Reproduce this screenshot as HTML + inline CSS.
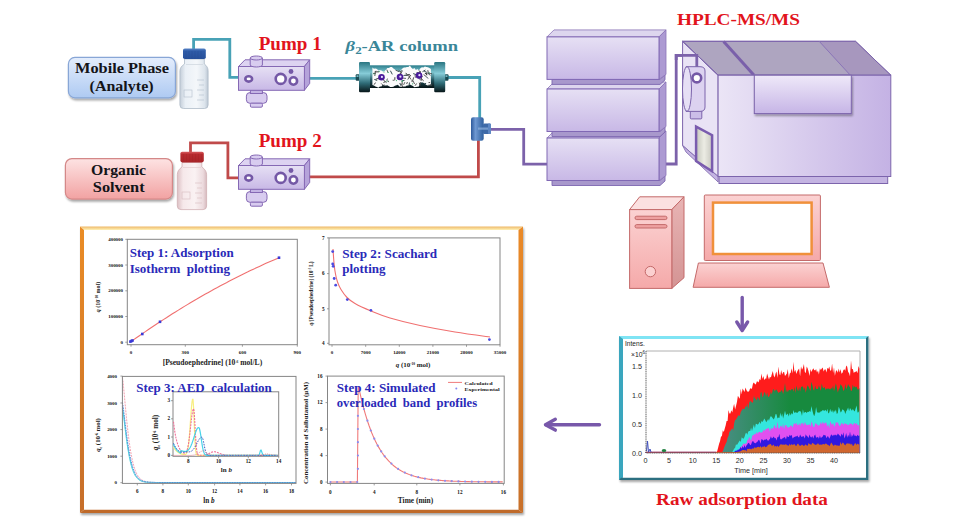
<!DOCTYPE html>
<html><head><meta charset="utf-8">
<style>
html,body{margin:0;padding:0;background:#fff;width:970px;height:524px;overflow:hidden}
svg{position:absolute;left:0;top:0;display:block}
text{font-family:"Liberation Serif",serif}
.sans, .sans text{font-family:"Liberation Sans",sans-serif}
</style></head><body>
<svg width="970" height="524" viewBox="0 0 970 524">
<defs>
  <linearGradient id="gBlueBox" x1="0" y1="0" x2="0" y2="1">
    <stop offset="0" stop-color="#e4edfc"/><stop offset="1" stop-color="#aecaf2"/>
  </linearGradient>
  <linearGradient id="gPinkBox" x1="0" y1="0" x2="0" y2="1">
    <stop offset="0" stop-color="#fde3e3"/><stop offset="1" stop-color="#f2a2a2"/>
  </linearGradient>
  <linearGradient id="gPurpFront" x1="0" y1="0" x2="0" y2="1">
    <stop offset="0" stop-color="#e6e0f4"/><stop offset="1" stop-color="#c8b8e6"/>
  </linearGradient>
  <linearGradient id="gPurpH" x1="0" y1="0" x2="1" y2="0">
    <stop offset="0" stop-color="#e8e2f5"/><stop offset="1" stop-color="#c6b5e4"/>
  </linearGradient>
  <linearGradient id="gColCap" x1="0" y1="0" x2="0" y2="1">
    <stop offset="0" stop-color="#4a9aa8"/><stop offset="0.35" stop-color="#9ad6df"/><stop offset="1" stop-color="#0d2a30"/>
  </linearGradient>
  <linearGradient id="gColBody" x1="0" y1="0" x2="0" y2="1">
    <stop offset="0" stop-color="#3d8e9c"/><stop offset="0.3" stop-color="#8fd0da"/><stop offset="1" stop-color="#0c262b"/>
  </linearGradient>
  <linearGradient id="gPinkTower" x1="0" y1="0" x2="0" y2="1">
    <stop offset="0" stop-color="#fbd2d2"/><stop offset="1" stop-color="#f5a9a9"/>
  </linearGradient>
  <linearGradient id="gOrTop" x1="0" y1="0" x2="0" y2="1">
    <stop offset="0" stop-color="#eeb868"/><stop offset="1" stop-color="#fff2b8"/>
  </linearGradient>
  <filter id="sh" x="-20%" y="-20%" width="140%" height="140%">
    <feGaussianBlur in="SourceAlpha" stdDeviation="1.2"/><feOffset dx="1" dy="1.5"/>
    <feComponentTransfer><feFuncA type="linear" slope="0.35"/></feComponentTransfer>
    <feMerge><feMergeNode/><feMergeNode in="SourceGraphic"/></feMerge>
  </filter>
</defs>

<!-- ============ TUBES ============ -->
<g fill="none" stroke-width="2.8" stroke-linejoin="miter">
  <polyline points="193.6,49 193.6,39.3 229.8,39.3 229.8,77.4 240,77.4" stroke="#48a2b6"/>
  <polyline points="308,78.3 357,78.3" stroke="#48a2b6"/>
  <polyline points="448,77.5 479.7,77.5 479.7,118" stroke="#48a2b6"/>
  <polyline points="190.5,152 190.5,142.9 227.9,142.9 227.9,177.9 240,177.9" stroke="#c04a4a"/>
  <polyline points="308,176.8 478.4,176.8 478.4,140" stroke="#c04a4a"/>
  <polyline points="490,129.4 523.7,129.4 523.7,164.1 548,164.1" stroke="#7c62aa"/>
  <polyline points="664,164 676.2,164 676.2,55.3 696.8,55.3 696.8,67" stroke="#7c62aa"/>
</g>
<!-- ============ LABEL BOXES ============ -->
<g filter="url(#sh)">
  <rect x="68.4" y="57.4" width="107" height="40.4" rx="6.5" fill="url(#gBlueBox)" stroke="#88a6d6" stroke-width="1.2"/>
  <rect x="65.4" y="158.6" width="107" height="40.5" rx="6.5" fill="url(#gPinkBox)" stroke="#d48888" stroke-width="1.2"/>
</g>
<g font-weight="bold" font-size="15.6" fill="#141418" lengthAdjust="spacingAndGlyphs">
  <text x="75" y="73.1" textLength="94" lengthAdjust="spacingAndGlyphs">Mobile Phase</text>
  <text x="89.6" y="91" textLength="64" lengthAdjust="spacingAndGlyphs">(Analyte)</text>
  <text x="91" y="174.7" textLength="55" lengthAdjust="spacingAndGlyphs">Organic</text>
  <text x="92.8" y="192.4" textLength="51.8" lengthAdjust="spacingAndGlyphs">Solvent</text>
</g>

<!-- ============ BOTTLES ============ -->
<defs>
  <linearGradient id="gGlassB" x1="0" y1="0" x2="1" y2="0">
    <stop offset="0" stop-color="#c4ced9"/><stop offset="0.2" stop-color="#eaf0f6"/><stop offset="0.6" stop-color="#f4f7fa"/><stop offset="0.88" stop-color="#dce4ec"/><stop offset="1" stop-color="#bcc7d3"/>
  </linearGradient>
  <linearGradient id="gGlassR" x1="0" y1="0" x2="1" y2="0">
    <stop offset="0" stop-color="#dcc0c4"/><stop offset="0.2" stop-color="#f6e8ea"/><stop offset="0.6" stop-color="#faf2f3"/><stop offset="0.88" stop-color="#ecdadd"/><stop offset="1" stop-color="#d6babe"/>
  </linearGradient>
  <linearGradient id="gCapB" x1="0" y1="0" x2="0" y2="1">
    <stop offset="0" stop-color="#5a86c8"/><stop offset="0.25" stop-color="#2f5ca8"/><stop offset="1" stop-color="#27509a"/>
  </linearGradient>
  <linearGradient id="gCapR" x1="0" y1="0" x2="0" y2="1">
    <stop offset="0" stop-color="#d85a5e"/><stop offset="0.25" stop-color="#b82c30"/><stop offset="1" stop-color="#a82428"/>
  </linearGradient>
</defs>
<g>
  <path d="M184.5,59 L204.3,59 L204.3,64 C207,66 208.1,68 208.1,71 L208.1,105 Q208.1,108.5 204.5,108.5 L183.5,108.5 Q179.9,108.5 179.9,105 L179.9,71 C179.9,68 181.5,66 184.5,64 Z" fill="url(#gGlassB)" stroke="#aebbc8" stroke-width="0.8"/>
  <path d="M186,64.5 L203,64.5" stroke="#d0d8e0" stroke-width="0.8"/>
  <g stroke="#b4c0cc" stroke-width="0.6" fill="none">
    <path d="M197,80 L204,80 M199,85 L204,85 M197,90 L204,90 M199,95 L204,95 M197,100 L204,100"/>
    <rect x="184" y="90" width="8" height="7"/>
  </g>
  <rect x="183" y="48.4" width="22.8" height="10.7" rx="1.8" fill="url(#gCapB)"/>
  <g stroke="#244a8c" stroke-width="0.5" opacity="0.6"><path d="M186,51 V58.5 M189,51 V58.5 M192,51 V58.5 M195,51 V58.5 M198,51 V58.5 M201,51 V58.5"/></g>
</g>
<g>
  <path d="M182,162.4 L201.8,162.4 L201.8,167 C204.8,169 206.6,171.5 206.6,174.6 L206.6,206 Q206.6,209.6 203,209.6 L181,209.6 Q177.3,209.6 177.3,206 L177.3,174.6 C177.3,171.5 179,169 182,167 Z" fill="url(#gGlassR)" stroke="#d0b0b4" stroke-width="0.8"/>
  <path d="M183,167.5 L201,167.5" stroke="#e4d0d2" stroke-width="0.8"/>
  <g stroke="#d8bcc0" stroke-width="0.6" fill="none">
    <path d="M195,183 L202,183 M197,188 L202,188 M195,193 L202,193 M197,198 L202,198 M195,203 L202,203"/>
    <rect x="182" y="192" width="8" height="7"/>
  </g>
  <rect x="180.4" y="151.7" width="23.4" height="10.7" rx="1.8" fill="url(#gCapR)"/>
  <g stroke="#9a2024" stroke-width="0.5" opacity="0.5"><path d="M183.5,154 V161.5 M186.5,154 V161.5 M189.5,154 V161.5 M192.5,154 V161.5 M195.5,154 V161.5 M198.5,154 V161.5 M201.5,154 V161.5"/></g>
</g>

<!-- ============ PUMPS ============ -->
<defs>
<g id="pump1" stroke="#8568b4" stroke-width="1">
  <rect x="246.4" y="92.6" width="20.6" height="10.7" rx="3.5" fill="#d8ccef"/>
  <rect x="250.4" y="90" width="12" height="3.5" fill="#c4b4e4"/>
  <rect x="250.4" y="103.2" width="12" height="4" rx="1.2" fill="#d8ccef"/>
  <path d="M238.5,66.5 L245,59.8 L309.7,59.8 L304.4,66.5 Z" fill="#ddd3f1"/>
  <path d="M304.4,66.5 L309.7,59.8 L309.7,83.4 L304.4,90.3 Z" fill="#b5a3da"/>
  <rect x="238.5" y="66.5" width="65.9" height="23.8" fill="url(#gPurpFront)"/>
  <path d="M250.2,65 L250.2,58 A6.1,2 0 0 1 262.4,58 L262.4,65 A6.1,2 0 0 1 250.2,65 Z" fill="#d8ccef"/>
  <path d="M250.2,58 A6.1,2 0 0 0 262.4,58" fill="none"/>
  <g fill="#fff" stroke="#7458a6" stroke-width="2.6">
    <ellipse cx="248.7" cy="78.9" rx="3.4" ry="2.7"/>
    <circle cx="280.7" cy="78.9" r="5"/>
    <circle cx="293.4" cy="81" r="3.7"/>
  </g>
  <circle cx="291" cy="71.5" r="2.4" fill="#7458a6" stroke="none"/>
</g>
</defs>
<use href="#pump1"/>
<use href="#pump1" transform="translate(0,99)"/>
<!-- ============ COLUMN ============ -->
<defs>
  <linearGradient id="gCap2" x1="0" y1="0" x2="0" y2="1">
    <stop offset="0" stop-color="#2a7682"/><stop offset="0.38" stop-color="#86ccd8"/><stop offset="0.7" stop-color="#2f6c78"/><stop offset="1" stop-color="#081619"/>
  </linearGradient>
  <linearGradient id="gBody2" x1="0" y1="0" x2="0" y2="1">
    <stop offset="0" stop-color="#2c7e8c"/><stop offset="0.3" stop-color="#7cc4ce"/><stop offset="0.65" stop-color="#23545e"/><stop offset="1" stop-color="#061214"/>
  </linearGradient>
  <linearGradient id="gT" x1="0" y1="0" x2="1" y2="0">
    <stop offset="0" stop-color="#2e5a9c"/><stop offset="0.35" stop-color="#6e98d2"/><stop offset="1" stop-color="#30609e"/>
  </linearGradient>
</defs>
<rect x="355.7" y="74.3" width="4" height="6.4" rx="1" fill="#1a4a52"/><rect x="356.5" y="75.3" width="2" height="1.6" fill="#7cc4ce"/>
<rect x="444.5" y="74.3" width="4" height="6.4" rx="1" fill="#1a4a52"/><rect x="445.5" y="75.3" width="2" height="1.6" fill="#7cc4ce"/>
<rect x="369" y="65.3" width="66" height="22.7" fill="url(#gBody2)"/>
<rect x="359" y="62" width="11" height="30.2" rx="1.2" fill="url(#gCap2)"/>
<rect x="434.2" y="62" width="11" height="30.2" rx="1.2" fill="url(#gCap2)"/>
<path d="M372.4,67.6 L373.9,68.7 L375.4,68.6 L376.9,68.9 L378.4,70.6 L379.9,70.3 L381.4,70.6 L382.9,71.4 L384.4,71.3 L385.9,69.8 L387.4,68.0 L388.9,68.0 L390.4,67.1 L391.9,67.1 L393.4,68.5 L394.9,69.5 L396.4,70.4 L397.9,71.0 L399.4,72.2 L400.9,70.2 L402.4,68.6 L403.9,67.6 L405.4,67.6 L406.9,67.1 L408.4,67.0 L409.9,65.5 L411.4,67.8 L412.9,68.9 L414.4,68.1 L415.9,70.1 L417.4,69.1 L418.9,70.4 L420.4,68.2 L421.9,67.3 L423.4,67.6 L424.9,66.5 L426.4,67.1 L427.9,67.3 L429.4,67.9 L430.9,69.0 L430.9,84.2 L429.4,85.0 L427.9,85.5 L426.4,85.1 L424.9,83.8 L423.4,82.7 L421.9,82.3 L420.4,83.0 L418.9,86.5 L417.4,86.7 L415.9,87.0 L414.4,87.2 L412.9,86.1 L411.4,85.3 L409.9,84.5 L408.4,85.6 L406.9,85.6 L405.4,86.5 L403.9,86.6 L402.4,86.8 L400.9,86.8 L399.4,86.4 L397.9,84.7 L396.4,85.2 L394.9,85.7 L393.4,86.8 L391.9,87.0 L390.4,86.9 L388.9,86.2 L387.4,85.3 L385.9,85.4 L384.4,85.6 L382.9,84.6 L381.4,86.5 L379.9,86.6 L378.4,87.7 L376.9,87.1 L375.4,86.5 L373.9,85.4 L372.4,85.0Z" fill="#fbfbfb"/>
<g><path d="M430.1,82.5 L428.5,82.6" stroke="#4a4a4a" stroke-width="0.9"/><path d="M384.3,84.6 L383.5,86.3" stroke="#555" stroke-width="0.9"/><path d="M428.7,73.6 L432.0,73.7" stroke="#4a4a4a" stroke-width="0.9"/><path d="M419.6,75.8 L422.7,76.7" stroke="#2a2a2a" stroke-width="0.9"/><path d="M387.5,78.6 L386.7,80.4" stroke="#4a4a4a" stroke-width="0.9"/><path d="M408.0,82.6 L406.1,83.4" stroke="#3a3a3a" stroke-width="0.9"/><path d="M381.2,83.4 L382.7,84.9" stroke="#555" stroke-width="0.9"/><path d="M416.6,83.5 L415.1,85.7" stroke="#3a3a3a" stroke-width="0.9"/><path d="M400.2,71.4 L401.8,72.0" stroke="#2a2a2a" stroke-width="0.9"/><path d="M427.5,72.7 L430.2,75.5" stroke="#203a40" stroke-width="0.9"/><path d="M409.7,74.4 L405.5,75.4" stroke="#3a3a3a" stroke-width="0.9"/><path d="M380.8,76.6 L379.9,78.8" stroke="#555" stroke-width="0.9"/><path d="M424.9,73.3 L427.6,73.9" stroke="#2a2a2a" stroke-width="0.9"/><path d="M386.8,69.7 L388.1,72.7" stroke="#4a4a4a" stroke-width="0.9"/><path d="M382.3,75.8 L378.9,76.0" stroke="#203a40" stroke-width="0.9"/><path d="M413.7,77.3 L412.5,81.3" stroke="#3a3a3a" stroke-width="0.9"/><path d="M401.4,75.8 L399.7,76.0" stroke="#4a4a4a" stroke-width="0.9"/><path d="M408.7,75.9 L411.1,79.6" stroke="#4a4a4a" stroke-width="0.9"/><path d="M379.1,78.1 L375.6,79.3" stroke="#2a2a2a" stroke-width="0.9"/><path d="M413.0,80.8 L414.6,84.0" stroke="#4a4a4a" stroke-width="0.9"/><path d="M426.1,83.4 L424.4,83.7" stroke="#203a40" stroke-width="0.9"/><path d="M401.7,70.0 L402.3,71.5" stroke="#203a40" stroke-width="0.9"/><path d="M379.2,71.8 L375.2,71.9" stroke="#2a2a2a" stroke-width="0.9"/><path d="M415.0,74.9 L415.4,77.8" stroke="#555" stroke-width="0.9"/><path d="M402.8,78.1 L406.0,78.4" stroke="#555" stroke-width="0.9"/><path d="M400.9,72.3 L400.9,75.6" stroke="#2a2a2a" stroke-width="0.9"/><path d="M426.0,73.4 L426.8,75.3" stroke="#2a2a2a" stroke-width="0.9"/><path d="M409.2,77.0 L407.8,79.5" stroke="#4a4a4a" stroke-width="0.9"/><path d="M423.6,74.6 L425.9,76.2" stroke="#4a4a4a" stroke-width="0.9"/><path d="M419.2,82.7 L420.3,85.7" stroke="#3a3a3a" stroke-width="0.9"/><path d="M390.4,70.7 L392.3,74.4" stroke="#203a40" stroke-width="0.9"/><path d="M376.2,71.0 L374.5,72.0" stroke="#4a4a4a" stroke-width="0.9"/><path d="M399.8,83.0 L400.9,85.8" stroke="#203a40" stroke-width="0.9"/><path d="M411.8,80.3 L412.1,82.1" stroke="#555" stroke-width="0.9"/><path d="M375.5,82.6 L374.2,84.6" stroke="#2a2a2a" stroke-width="0.9"/><path d="M392.6,80.2 L394.5,80.3" stroke="#555" stroke-width="0.9"/><path d="M398.6,70.2 L400.1,71.5" stroke="#4a4a4a" stroke-width="0.9"/><path d="M374.3,79.4 L377.2,80.5" stroke="#203a40" stroke-width="0.9"/><path d="M410.7,75.1 L409.5,76.9" stroke="#2a2a2a" stroke-width="0.9"/><path d="M401.7,72.1 L399.4,74.3" stroke="#2a2a2a" stroke-width="0.9"/><path d="M375.4,71.8 L374.8,76.0" stroke="#4a4a4a" stroke-width="0.9"/><path d="M401.4,83.6 L402.7,87.3" stroke="#3a3a3a" stroke-width="0.9"/><path d="M424.2,71.2 L426.9,72.4" stroke="#203a40" stroke-width="0.9"/><path d="M409.5,82.5 L409.0,85.8" stroke="#203a40" stroke-width="0.9"/><path d="M402.0,81.1 L402.3,84.5" stroke="#4a4a4a" stroke-width="0.9"/><path d="M383.3,80.0 L386.5,82.6" stroke="#2a2a2a" stroke-width="0.9"/><path d="M432.0,85.0 L427.8,85.3" stroke="#555" stroke-width="0.9"/><path d="M387.8,80.5 L388.6,82.1" stroke="#2a2a2a" stroke-width="0.9"/><path d="M398.5,77.9 L398.6,79.6" stroke="#4a4a4a" stroke-width="0.9"/><path d="M418.8,70.8 L421.0,72.1" stroke="#2a2a2a" stroke-width="0.9"/><path d="M420.8,72.6 L416.6,72.6" stroke="#3a3a3a" stroke-width="0.9"/><path d="M404.5,80.4 L401.6,80.9" stroke="#203a40" stroke-width="0.9"/><path d="M427.8,70.2 L428.4,73.3" stroke="#3a3a3a" stroke-width="0.9"/><path d="M421.3,76.9 L421.1,80.9" stroke="#3a3a3a" stroke-width="0.9"/><path d="M407.5,74.9 L403.5,75.5" stroke="#203a40" stroke-width="0.9"/><path d="M409.9,74.9 L406.8,75.2" stroke="#3a3a3a" stroke-width="0.9"/><path d="M405.5,73.2 L407.0,73.8" stroke="#555" stroke-width="0.9"/><path d="M394.9,77.2 L394.8,79.9" stroke="#2a2a2a" stroke-width="0.9"/><path d="M418.5,78.6 L420.5,79.2" stroke="#203a40" stroke-width="0.9"/><path d="M426.0,76.3 L428.0,78.5" stroke="#203a40" stroke-width="0.9"/><path d="M380.4,76.1 L380.3,78.0" stroke="#203a40" stroke-width="0.9"/><path d="M395.6,70.2 L399.1,71.7" stroke="#4a4a4a" stroke-width="0.9"/><path d="M373.1,73.4 L375.5,73.5" stroke="#3a3a3a" stroke-width="0.9"/><path d="M413.2,73.6 L416.7,74.8" stroke="#203a40" stroke-width="0.9"/><path d="M381.2,76.8 L379.0,79.5" stroke="#4a4a4a" stroke-width="0.9"/><path d="M425.4,70.0 L422.5,71.7" stroke="#203a40" stroke-width="0.9"/><path d="M404.9,82.1 L403.6,84.9" stroke="#555" stroke-width="0.9"/><path d="M421.0,78.4 L423.7,80.9" stroke="#3a3a3a" stroke-width="0.9"/><path d="M420.7,82.1 L419.4,86.0" stroke="#4a4a4a" stroke-width="0.9"/><path d="M385.2,81.8 L383.4,82.5" stroke="#3a3a3a" stroke-width="0.9"/><circle cx="386.9" cy="81.2" r="0.6" fill="#3ab070"/><circle cx="388.1" cy="72.4" r="0.6" fill="#3ab070"/><circle cx="421.3" cy="76.9" r="0.6" fill="#3ab070"/><circle cx="418.8" cy="72.8" r="0.6" fill="#3ab070"/><circle cx="396.4" cy="80.6" r="0.6" fill="#3ab070"/><circle cx="374.0" cy="73.8" r="0.6" fill="#3ab070"/><circle cx="412.6" cy="83.8" r="0.6" fill="#3ab070"/><circle cx="429.2" cy="72.6" r="0.6" fill="#3ab070"/><circle cx="402.3" cy="81.6" r="0.6" fill="#3ab070"/><circle cx="402.2" cy="80.6" r="0.6" fill="#3ab070"/><circle cx="384.0" cy="72.0" r="0.6" fill="#3ab070"/><circle cx="379.2" cy="71.5" r="0.6" fill="#3ab070"/></g>
<circle cx="381.5" cy="77.2" r="3.3" fill="#4a1a9a"/><circle cx="381.9" cy="76.9" r="1.1" fill="#e8e0ff"/>
<circle cx="400" cy="77" r="3.3" fill="#4a1a9a"/><circle cx="400.4" cy="76.7" r="1.1" fill="#e8e0ff"/>
<circle cx="419" cy="75.5" r="3.3" fill="#4a1a9a"/><circle cx="419.4" cy="75.2" r="1.1" fill="#e8e0ff"/>
<g>
  <rect x="471" y="117.3" width="12.7" height="23.4" rx="2.2" fill="url(#gT)"/>
  <rect x="483" y="123.4" width="8" height="10.6" rx="1.5" fill="#3e6aa8"/>
  <rect x="488" y="123.4" width="3" height="10.6" rx="1" fill="#5e88c4"/>
  <rect x="478" y="127.5" width="10" height="2.2" fill="#8fb0dc" opacity="0.7"/>
</g>
<!-- ============ HPLC STACK ============ -->
<defs>
<g id="stack">
  <path d="M552,42.5 L660,42.5 L665,38 L665,43 L660,47.5 L552,47.5 Z" fill="#a898cc" stroke="#7d66b0" stroke-width="0.9"/>
  <path d="M547,0 L554,-7 L666,-7 L659,0 Z" fill="#ddd6ee" stroke="#8a74b8" stroke-width="0.8"/>
  <path d="M659,0 L666,-7 L666,37.5 L659,42.5 Z" fill="#ac9ad2" stroke="#8a74b8" stroke-width="0.8"/>
  <rect x="547" y="0" width="112" height="42.5" fill="url(#gPurpFront)" stroke="#8068b4" stroke-width="1"/>
</g>
</defs>
<use href="#stack" transform="translate(0,138)"/>
<use href="#stack" transform="translate(0,89)"/>
<use href="#stack" transform="translate(0,36.9)"/>
<!-- ============ MS ============ -->
<defs>
  <linearGradient id="gWin" x1="0" y1="0" x2="1" y2="0"><stop offset="0" stop-color="#c4c6bc"/><stop offset="0.5" stop-color="#ecece4"/><stop offset="1" stop-color="#c8c8c0"/></linearGradient>
  <linearGradient id="gPanel" x1="0" y1="0" x2="0" y2="1"><stop offset="0" stop-color="#efe9f9"/><stop offset="1" stop-color="#c6b5e6"/></linearGradient>
  <linearGradient id="gMSFront" x1="0" y1="0" x2="1" y2="0"><stop offset="0" stop-color="#ebe5f6"/><stop offset="1" stop-color="#c4b2e4"/></linearGradient>
</defs>
<g stroke="#7c64ac" stroke-width="1">
  <rect x="719" y="176.5" width="168.7" height="7" fill="#c4b4e2"/>
  <path d="M682.6,41.3 L718.1,75.2 L718.1,176.5 L682.6,145.5 Z" fill="#e9e3f5"/>
  <path d="M682.6,145.5 L718.1,176.5 L718.1,182 L686,152 Z" fill="#c4b4e2" stroke-width="0.8"/>
  <path d="M682.6,41.3 L855.5,41.3 L890.8,75.2 L718.1,75.2 Z" fill="#aea5c0"/>
  <path d="M819.2,41.3 L855.5,41.3 L890.8,75.2 L850.3,75.2 Z" fill="#a797be" stroke="none"/>
  <path d="M682.6,41.3 L855.5,41.3 L890.8,75.2 L718.1,75.2 Z" fill="none"/>
  <path d="M723.6,41.5 L753.8,75" stroke="#7a60aa" stroke-width="3"/>
  <path d="M819.2,41.3 L850.3,75.2" stroke="#8a74b8" stroke-width="1"/>
  <rect x="718.1" y="75.2" width="172.7" height="101.3" fill="url(#gMSFront)"/>
  <rect x="754.3" y="75.2" width="97" height="38.4" fill="url(#gPanel)" filter="url(#sh)"/>
  <path d="M696.1,126.6 L712.1,135.2 L712.1,171.3 L696.1,161 Z" fill="url(#gWin)" stroke="#7a5cae" stroke-width="2.5"/>
</g>
<polyline points="676.2,60 676.2,55.3 696.8,55.3 696.8,67" fill="none" stroke="#7c62aa" stroke-width="2.8"/>
<!-- ion source -->
<g stroke="#7c64ac" stroke-width="1">
  <rect x="690.3" y="110" width="11.5" height="8.9" rx="1" fill="#cbbde8"/>
  <path d="M686,66.7 L700,66.7 Q705,66.7 705,71 L705,107 Q705,111.4 700,111.4 L686,111.4 Z" fill="#dcd2f0"/>
  <ellipse cx="687" cy="89" rx="4.5" ry="22.3" fill="#e6dff5"/>
  <circle cx="696.8" cy="78" r="4.4" fill="#fff" stroke="#7458a6" stroke-width="2.6"/>
</g>
<!-- ============ COMPUTER ============ -->
<defs>
  <linearGradient id="gTowerSide" x1="0" y1="0" x2="0" y2="1"><stop offset="0" stop-color="#e8b4b4"/><stop offset="1" stop-color="#d49494"/></linearGradient>
</defs>
<g stroke="#c46a6a" stroke-width="1">
  <path d="M629.6,209.6 L639.7,196.8 L684,196.8 L671.8,209.6 Z" fill="#fbe0e0"/>
  <path d="M671.8,209.6 L684,196.8 L684,277.7 L671.8,288.4 Z" fill="url(#gTowerSide)"/>
  <rect x="629.6" y="209.6" width="42.2" height="78.8" fill="url(#gPinkTower)"/>
  <rect x="635" y="216.2" width="32" height="3.4" rx="1.7" fill="#eea0a0"/>
  <rect x="635" y="224.6" width="32" height="3.4" rx="1.7" fill="#eea0a0"/>
  <circle cx="650.4" cy="271.6" r="5.2" fill="#fbd0d0"/>
  <rect x="704.3" y="195" width="116.1" height="65.5" rx="1" fill="url(#gPinkTower)"/>
  <path d="M698.4,263 L823,263 L829.4,287.3 L693.1,287.3 Z" fill="url(#gPinkTower)"/>
</g>
<rect x="713" y="202.6" width="98.6" height="51.4" fill="#fff" stroke="#f0903a" stroke-width="2.5"/>

<!-- arrows -->
<g stroke="#7858aa" stroke-width="3.4" fill="none" stroke-linecap="round" stroke-linejoin="round">
  <path d="M742.2,297.5 L742.2,329"/>
  <path d="M736.8,322 L742.2,330.5 L747.6,322"/>
  <path d="M599.5,424.7 L546,424.7"/>
  <path d="M555.3,419.3 L545.5,424.7 L555.3,430.1"/>
</g>

<!-- ============ RAW DATA CHART FRAME ============ -->
<g filter="url(#sh)">
  <rect x="619" y="336" width="249.5" height="144" fill="#fff"/>
</g>
<path d="M619,336 L868.5,336 L866,339 L623,339 L623,477.5 L619,480 Z" fill="#7fe4f4"/>
<path d="M619,336 L623,339 L623,477.5 L619,480 Z" fill="#3aa6be"/>
<path d="M868.5,336 L868.5,480 L619,480 L621,477.8 L866,477.8 L866,338 Z" fill="#2c6f80"/>
<!-- ============ RAW CHART CONTENT ============ -->
<g>
  <path d="M646,351 L860,351 L860,453" fill="none" stroke="#b0b0b0" stroke-width="1"/>
<defs><linearGradient id="gGreenRaw" gradientUnits="userSpaceOnUse" x1="720" y1="0" x2="790" y2="0"><stop offset="0" stop-color="#4a8e86"/><stop offset="1" stop-color="#178a3e"/></linearGradient></defs>
<path d="M645.6,453.0 L645.6,452.1 L646.5,452.1 L647.5,452.1 L648.4,452.1 L649.4,452.1 L650.3,452.1 L651.3,452.1 L652.2,452.1 L653.1,452.1 L654.1,452.1 L655.0,452.1 L656.0,452.1 L656.9,452.1 L657.8,452.1 L658.8,452.1 L659.7,452.1 L660.7,452.1 L661.6,452.1 L662.6,452.1 L663.5,452.1 L664.4,452.1 L665.4,452.1 L666.3,452.1 L667.3,452.1 L668.2,452.1 L669.1,452.1 L670.1,452.1 L671.0,452.1 L672.0,452.1 L672.9,452.1 L673.9,452.1 L674.8,452.1 L675.7,452.1 L676.7,452.1 L677.6,452.1 L678.6,452.1 L679.5,452.1 L680.5,452.1 L681.4,452.1 L682.3,452.1 L683.3,452.1 L684.2,452.1 L685.2,452.1 L686.1,452.1 L687.0,452.1 L688.0,452.1 L688.9,452.1 L689.9,452.1 L690.8,452.1 L691.8,452.1 L692.7,452.1 L693.6,452.1 L694.6,452.1 L695.5,452.1 L696.5,452.1 L697.4,452.1 L698.4,452.1 L699.3,452.1 L700.2,452.1 L701.2,452.1 L702.1,452.1 L703.1,452.1 L704.0,452.1 L704.9,452.1 L705.9,452.1 L706.8,452.1 L707.8,452.1 L708.7,452.1 L709.7,452.1 L710.6,452.1 L711.5,452.1 L712.5,452.1 L713.4,452.1 L714.4,452.1 L715.3,452.1 L716.2,452.1 L717.2,451.3 L718.1,447.7 L719.1,443.8 L720.0,441.3 L721.0,436.6 L721.9,436.3 L722.8,430.3 L723.8,431.9 L724.7,428.7 L725.7,425.3 L726.6,421.0 L727.6,421.1 L728.5,410.1 L729.4,413.4 L730.4,413.6 L731.3,410.3 L732.3,412.4 L733.2,407.6 L734.1,403.8 L735.1,409.5 L736.0,405.9 L737.0,401.8 L737.9,395.8 L738.9,397.5 L739.8,398.7 L740.7,388.7 L741.7,394.1 L742.6,388.5 L743.6,390.3 L744.5,392.0 L745.5,387.6 L746.4,390.0 L747.3,391.6 L748.3,391.8 L749.2,390.9 L750.2,388.0 L751.1,389.1 L752.0,388.2 L753.0,383.6 L753.9,382.5 L754.9,383.9 L755.8,384.4 L756.8,381.6 L757.7,381.4 L758.6,382.6 L759.6,378.9 L760.5,380.3 L761.5,373.5 L762.4,378.9 L763.4,375.9 L764.3,380.3 L765.2,378.4 L766.2,378.8 L767.1,373.4 L768.1,376.8 L769.0,379.5 L769.9,376.8 L770.9,377.5 L771.8,374.2 L772.8,371.0 L773.7,375.4 L774.7,377.6 L775.6,373.4 L776.5,371.4 L777.5,378.1 L778.4,366.5 L779.4,374.3 L780.3,375.2 L781.2,370.1 L782.2,374.5 L783.1,372.2 L784.1,372.1 L785.0,376.0 L786.0,374.8 L786.9,373.5 L787.8,368.9 L788.8,378.3 L789.7,373.6 L790.7,372.8 L791.6,368.2 L792.6,373.6 L793.5,361.8 L794.4,372.1 L795.4,369.7 L796.3,374.0 L797.3,371.3 L798.2,369.8 L799.1,368.4 L800.1,376.5 L801.0,366.2 L802.0,369.7 L802.9,368.0 L803.9,364.0 L804.8,371.7 L805.7,373.3 L806.7,366.6 L807.6,368.3 L808.6,371.6 L809.5,376.1 L810.5,369.1 L811.4,371.9 L812.3,370.1 L813.3,368.3 L814.2,370.1 L815.2,370.5 L816.1,368.9 L817.0,372.4 L818.0,370.5 L818.9,374.5 L819.9,368.2 L820.8,370.0 L821.8,368.4 L822.7,367.5 L823.6,371.4 L824.6,369.4 L825.5,369.3 L826.5,372.4 L827.4,367.8 L828.3,368.9 L829.3,366.5 L830.2,370.7 L831.2,370.2 L832.1,363.5 L833.1,373.0 L834.0,367.2 L834.9,375.8 L835.9,371.1 L836.8,370.2 L837.8,372.8 L838.7,368.4 L839.7,372.4 L840.6,368.9 L841.5,373.8 L842.5,372.7 L843.4,370.0 L844.4,369.2 L845.3,370.7 L846.2,365.4 L847.2,366.7 L848.1,371.7 L849.1,373.3 L850.0,376.2 L851.0,360.4 L851.9,369.1 L852.8,369.0 L853.8,373.0 L854.7,371.9 L855.7,371.8 L856.6,370.9 L857.5,373.2 L858.5,365.9 L859.4,368.6 L859.4,453.0 Z" fill="#ff1c1c"/>
<path d="M645.6,453.0 L645.6,452.1 L646.5,452.1 L647.5,452.1 L648.4,452.1 L649.4,452.1 L650.3,452.1 L651.3,452.1 L652.2,452.1 L653.1,452.1 L654.1,452.1 L655.0,452.1 L656.0,452.1 L656.9,452.1 L657.8,452.1 L658.8,452.1 L659.7,452.1 L660.7,452.1 L661.6,452.1 L662.6,452.1 L663.5,452.1 L664.4,452.1 L665.4,452.1 L666.3,452.1 L667.3,452.1 L668.2,452.1 L669.1,452.1 L670.1,452.1 L671.0,452.1 L672.0,452.1 L672.9,452.1 L673.9,452.1 L674.8,452.1 L675.7,452.1 L676.7,452.1 L677.6,452.1 L678.6,452.1 L679.5,452.1 L680.5,452.1 L681.4,452.1 L682.3,452.1 L683.3,452.1 L684.2,452.1 L685.2,452.1 L686.1,452.1 L687.0,452.1 L688.0,452.1 L688.9,452.1 L689.9,452.1 L690.8,452.1 L691.8,452.1 L692.7,452.1 L693.6,452.1 L694.6,452.1 L695.5,452.1 L696.5,452.1 L697.4,452.1 L698.4,452.1 L699.3,452.1 L700.2,452.1 L701.2,452.1 L702.1,452.1 L703.1,452.1 L704.0,452.1 L704.9,452.1 L705.9,452.1 L706.8,452.1 L707.8,452.1 L708.7,452.1 L709.7,452.1 L710.6,452.1 L711.5,452.1 L712.5,452.1 L713.4,452.1 L714.4,452.1 L715.3,452.1 L716.2,452.1 L717.2,452.1 L718.1,452.1 L719.1,452.1 L720.0,452.1 L721.0,452.1 L721.9,452.1 L722.8,451.4 L723.8,448.4 L724.7,446.0 L725.7,443.8 L726.6,441.9 L727.6,437.7 L728.5,435.9 L729.4,431.7 L730.4,431.0 L731.3,429.5 L732.3,428.2 L733.2,430.7 L734.1,423.6 L735.1,419.8 L736.0,419.7 L737.0,417.8 L737.9,416.2 L738.9,415.0 L739.8,416.2 L740.7,412.0 L741.7,410.6 L742.6,408.8 L743.6,409.1 L744.5,409.0 L745.5,405.9 L746.4,407.2 L747.3,403.6 L748.3,409.1 L749.2,402.5 L750.2,400.8 L751.1,401.8 L752.0,402.5 L753.0,402.7 L753.9,395.6 L754.9,398.5 L755.8,399.0 L756.8,400.6 L757.7,396.8 L758.6,398.2 L759.6,400.7 L760.5,392.7 L761.5,392.1 L762.4,397.6 L763.4,395.5 L764.3,392.1 L765.2,393.1 L766.2,396.7 L767.1,392.3 L768.1,396.9 L769.0,396.7 L769.9,395.1 L770.9,391.5 L771.8,394.6 L772.8,389.8 L773.7,389.0 L774.7,391.5 L775.6,389.9 L776.5,389.4 L777.5,391.2 L778.4,393.1 L779.4,392.1 L780.3,392.1 L781.2,390.2 L782.2,390.6 L783.1,394.1 L784.1,389.8 L785.0,383.0 L786.0,392.5 L786.9,389.2 L787.8,392.3 L788.8,389.8 L789.7,390.1 L790.7,390.5 L791.6,389.1 L792.6,389.1 L793.5,391.8 L794.4,386.8 L795.4,393.0 L796.3,385.6 L797.3,389.6 L798.2,391.3 L799.1,386.8 L800.1,391.4 L801.0,387.0 L802.0,386.4 L802.9,386.4 L803.9,390.2 L804.8,386.9 L805.7,392.7 L806.7,388.2 L807.6,385.2 L808.6,386.7 L809.5,388.7 L810.5,391.0 L811.4,381.8 L812.3,384.7 L813.3,389.4 L814.2,390.4 L815.2,385.4 L816.1,389.1 L817.0,388.7 L818.0,388.9 L818.9,385.3 L819.9,387.9 L820.8,390.7 L821.8,383.5 L822.7,387.4 L823.6,388.3 L824.6,386.7 L825.5,390.1 L826.5,388.5 L827.4,388.7 L828.3,388.6 L829.3,388.8 L830.2,389.7 L831.2,387.6 L832.1,389.3 L833.1,385.3 L834.0,391.3 L834.9,387.8 L835.9,383.2 L836.8,387.5 L837.8,392.5 L838.7,389.6 L839.7,387.9 L840.6,384.0 L841.5,385.5 L842.5,387.2 L843.4,391.0 L844.4,389.5 L845.3,384.0 L846.2,389.3 L847.2,387.1 L848.1,384.0 L849.1,386.5 L850.0,386.7 L851.0,391.2 L851.9,390.3 L852.8,384.5 L853.8,387.9 L854.7,386.1 L855.7,387.6 L856.6,386.5 L857.5,389.4 L858.5,389.6 L859.4,388.0 L859.4,453.0 Z" fill="url(#gGreenRaw)"/>
<path d="M645.6,453.0 L645.6,452.1 L646.5,452.1 L647.5,452.1 L648.4,452.1 L649.4,452.1 L650.3,452.1 L651.3,452.1 L652.2,452.1 L653.1,452.1 L654.1,452.1 L655.0,452.1 L656.0,452.1 L656.9,452.1 L657.8,452.1 L658.8,452.1 L659.7,452.1 L660.7,452.1 L661.6,452.1 L662.6,452.1 L663.5,452.1 L664.4,452.1 L665.4,452.1 L666.3,452.1 L667.3,452.1 L668.2,452.1 L669.1,452.1 L670.1,452.1 L671.0,452.1 L672.0,452.1 L672.9,452.1 L673.9,452.1 L674.8,452.1 L675.7,452.1 L676.7,452.1 L677.6,452.1 L678.6,452.1 L679.5,452.1 L680.5,452.1 L681.4,452.1 L682.3,452.1 L683.3,452.1 L684.2,452.1 L685.2,452.1 L686.1,452.1 L687.0,452.1 L688.0,452.1 L688.9,452.1 L689.9,452.1 L690.8,452.1 L691.8,452.1 L692.7,452.1 L693.6,452.1 L694.6,452.1 L695.5,452.1 L696.5,452.1 L697.4,452.1 L698.4,452.1 L699.3,452.1 L700.2,452.1 L701.2,452.1 L702.1,452.1 L703.1,452.1 L704.0,452.1 L704.9,452.1 L705.9,452.1 L706.8,452.1 L707.8,452.1 L708.7,452.1 L709.7,452.1 L710.6,452.1 L711.5,452.1 L712.5,452.1 L713.4,452.1 L714.4,452.1 L715.3,452.1 L716.2,452.1 L717.2,452.1 L718.1,452.1 L719.1,452.1 L720.0,452.1 L721.0,452.1 L721.9,452.1 L722.8,452.1 L723.8,452.1 L724.7,452.1 L725.7,452.1 L726.6,452.1 L727.6,452.1 L728.5,452.1 L729.4,452.1 L730.4,452.1 L731.3,452.1 L732.3,452.1 L733.2,450.6 L734.1,448.8 L735.1,447.8 L736.0,444.2 L737.0,445.0 L737.9,443.6 L738.9,441.8 L739.8,440.6 L740.7,442.0 L741.7,437.2 L742.6,438.3 L743.6,438.7 L744.5,437.0 L745.5,433.6 L746.4,432.8 L747.3,434.7 L748.3,431.5 L749.2,431.0 L750.2,431.1 L751.1,427.5 L752.0,431.0 L753.0,427.6 L753.9,424.4 L754.9,428.4 L755.8,423.7 L756.8,424.0 L757.7,424.8 L758.6,423.8 L759.6,421.8 L760.5,424.1 L761.5,421.0 L762.4,421.9 L763.4,420.5 L764.3,418.5 L765.2,420.0 L766.2,422.3 L767.1,421.0 L768.1,419.0 L769.0,420.8 L769.9,417.7 L770.9,416.0 L771.8,417.1 L772.8,418.2 L773.7,419.4 L774.7,417.5 L775.6,413.9 L776.5,414.2 L777.5,418.6 L778.4,417.6 L779.4,417.9 L780.3,412.6 L781.2,416.8 L782.2,413.6 L783.1,418.4 L784.1,414.8 L785.0,410.7 L786.0,415.1 L786.9,414.6 L787.8,413.4 L788.8,416.5 L789.7,412.7 L790.7,415.6 L791.6,412.9 L792.6,414.5 L793.5,410.1 L794.4,412.9 L795.4,412.2 L796.3,412.5 L797.3,412.9 L798.2,411.8 L799.1,411.3 L800.1,411.1 L801.0,411.9 L802.0,415.9 L802.9,409.3 L803.9,413.5 L804.8,412.1 L805.7,412.0 L806.7,413.1 L807.6,411.7 L808.6,411.9 L809.5,411.0 L810.5,412.1 L811.4,406.1 L812.3,410.3 L813.3,413.9 L814.2,416.2 L815.2,413.2 L816.1,407.0 L817.0,412.1 L818.0,412.7 L818.9,412.6 L819.9,412.6 L820.8,411.2 L821.8,411.2 L822.7,410.0 L823.6,410.5 L824.6,410.7 L825.5,409.7 L826.5,411.8 L827.4,408.7 L828.3,413.5 L829.3,412.4 L830.2,408.8 L831.2,412.3 L832.1,409.8 L833.1,412.9 L834.0,410.2 L834.9,412.0 L835.9,409.4 L836.8,413.9 L837.8,413.0 L838.7,406.8 L839.7,409.1 L840.6,412.5 L841.5,411.6 L842.5,409.2 L843.4,409.9 L844.4,410.9 L845.3,414.0 L846.2,411.2 L847.2,409.7 L848.1,407.4 L849.1,411.3 L850.0,407.9 L851.0,409.6 L851.9,410.8 L852.8,408.9 L853.8,410.5 L854.7,411.6 L855.7,408.3 L856.6,405.6 L857.5,412.4 L858.5,412.3 L859.4,410.3 L859.4,453.0 Z" fill="#34e6de"/>
<path d="M645.6,453.0 L645.6,452.1 L646.5,452.1 L647.5,452.1 L648.4,452.1 L649.4,452.1 L650.3,452.1 L651.3,452.1 L652.2,452.1 L653.1,452.1 L654.1,452.1 L655.0,452.1 L656.0,452.1 L656.9,452.1 L657.8,452.1 L658.8,452.1 L659.7,452.1 L660.7,452.1 L661.6,452.1 L662.6,452.1 L663.5,452.1 L664.4,452.1 L665.4,452.1 L666.3,452.1 L667.3,452.1 L668.2,452.1 L669.1,452.1 L670.1,452.1 L671.0,452.1 L672.0,452.1 L672.9,452.1 L673.9,452.1 L674.8,452.1 L675.7,452.1 L676.7,452.1 L677.6,452.1 L678.6,452.1 L679.5,452.1 L680.5,452.1 L681.4,452.1 L682.3,452.1 L683.3,452.1 L684.2,452.1 L685.2,452.1 L686.1,452.1 L687.0,452.1 L688.0,452.1 L688.9,452.1 L689.9,452.1 L690.8,452.1 L691.8,452.1 L692.7,452.1 L693.6,452.1 L694.6,452.1 L695.5,452.1 L696.5,452.1 L697.4,452.1 L698.4,452.1 L699.3,452.1 L700.2,452.1 L701.2,452.1 L702.1,452.1 L703.1,452.1 L704.0,452.1 L704.9,452.1 L705.9,452.1 L706.8,452.1 L707.8,452.1 L708.7,452.1 L709.7,452.1 L710.6,452.1 L711.5,452.1 L712.5,452.1 L713.4,452.1 L714.4,452.1 L715.3,452.1 L716.2,452.1 L717.2,452.1 L718.1,452.1 L719.1,452.1 L720.0,452.1 L721.0,452.1 L721.9,452.1 L722.8,452.1 L723.8,452.1 L724.7,452.1 L725.7,452.1 L726.6,452.1 L727.6,452.1 L728.5,452.1 L729.4,452.1 L730.4,452.1 L731.3,452.1 L732.3,452.1 L733.2,452.1 L734.1,452.1 L735.1,452.1 L736.0,452.1 L737.0,452.1 L737.9,451.1 L738.9,449.4 L739.8,448.9 L740.7,446.9 L741.7,446.2 L742.6,445.0 L743.6,443.3 L744.5,444.2 L745.5,443.2 L746.4,443.8 L747.3,440.1 L748.3,439.7 L749.2,436.7 L750.2,438.9 L751.1,440.8 L752.0,436.5 L753.0,434.7 L753.9,435.2 L754.9,433.2 L755.8,434.4 L756.8,431.7 L757.7,434.0 L758.6,432.1 L759.6,431.7 L760.5,432.4 L761.5,432.6 L762.4,432.2 L763.4,429.6 L764.3,431.3 L765.2,429.7 L766.2,428.8 L767.1,428.9 L768.1,427.8 L769.0,428.4 L769.9,431.5 L770.9,428.4 L771.8,427.9 L772.8,429.3 L773.7,427.0 L774.7,424.7 L775.6,428.2 L776.5,428.1 L777.5,421.5 L778.4,427.9 L779.4,428.8 L780.3,426.2 L781.2,425.6 L782.2,428.1 L783.1,423.4 L784.1,429.5 L785.0,425.0 L786.0,425.3 L786.9,426.2 L787.8,427.7 L788.8,427.3 L789.7,427.1 L790.7,425.2 L791.6,425.8 L792.6,427.5 L793.5,424.5 L794.4,423.1 L795.4,424.5 L796.3,422.6 L797.3,425.1 L798.2,425.2 L799.1,422.9 L800.1,426.3 L801.0,422.7 L802.0,424.0 L802.9,422.6 L803.9,425.8 L804.8,422.0 L805.7,423.7 L806.7,425.2 L807.6,424.7 L808.6,425.0 L809.5,423.9 L810.5,426.8 L811.4,421.4 L812.3,423.3 L813.3,427.1 L814.2,427.0 L815.2,423.2 L816.1,423.6 L817.0,424.4 L818.0,424.9 L818.9,426.0 L819.9,424.3 L820.8,421.9 L821.8,424.5 L822.7,421.5 L823.6,423.6 L824.6,423.4 L825.5,422.2 L826.5,422.9 L827.4,426.7 L828.3,424.0 L829.3,428.5 L830.2,420.9 L831.2,423.5 L832.1,424.7 L833.1,422.8 L834.0,425.7 L834.9,426.4 L835.9,421.7 L836.8,422.9 L837.8,422.0 L838.7,424.4 L839.7,426.3 L840.6,425.1 L841.5,423.0 L842.5,423.6 L843.4,425.0 L844.4,423.0 L845.3,424.1 L846.2,423.5 L847.2,424.7 L848.1,424.7 L849.1,425.0 L850.0,422.8 L851.0,424.2 L851.9,423.4 L852.8,425.5 L853.8,423.6 L854.7,422.7 L855.7,424.4 L856.6,422.8 L857.5,425.1 L858.5,425.5 L859.4,424.4 L859.4,453.0 Z" fill="#e050f0"/>
<path d="M645.6,453.0 L645.6,452.1 L646.5,452.1 L647.5,452.1 L648.4,452.1 L649.4,452.1 L650.3,452.1 L651.3,452.1 L652.2,452.1 L653.1,452.1 L654.1,452.1 L655.0,452.1 L656.0,452.1 L656.9,452.1 L657.8,452.1 L658.8,452.1 L659.7,452.1 L660.7,452.1 L661.6,452.1 L662.6,452.1 L663.5,452.1 L664.4,452.1 L665.4,452.1 L666.3,452.1 L667.3,452.1 L668.2,452.1 L669.1,452.1 L670.1,452.1 L671.0,452.1 L672.0,452.1 L672.9,452.1 L673.9,452.1 L674.8,452.1 L675.7,452.1 L676.7,452.1 L677.6,452.1 L678.6,452.1 L679.5,452.1 L680.5,452.1 L681.4,452.1 L682.3,452.1 L683.3,452.1 L684.2,452.1 L685.2,452.1 L686.1,452.1 L687.0,452.1 L688.0,452.1 L688.9,452.1 L689.9,452.1 L690.8,452.1 L691.8,452.1 L692.7,452.1 L693.6,452.1 L694.6,452.1 L695.5,452.1 L696.5,452.1 L697.4,452.1 L698.4,452.1 L699.3,452.1 L700.2,452.1 L701.2,452.1 L702.1,452.1 L703.1,452.1 L704.0,452.1 L704.9,452.1 L705.9,452.1 L706.8,452.1 L707.8,452.1 L708.7,452.1 L709.7,452.1 L710.6,452.1 L711.5,452.1 L712.5,452.1 L713.4,452.1 L714.4,452.1 L715.3,452.1 L716.2,452.1 L717.2,452.1 L718.1,452.1 L719.1,452.1 L720.0,452.1 L721.0,452.1 L721.9,452.1 L722.8,452.1 L723.8,452.1 L724.7,452.1 L725.7,452.1 L726.6,452.1 L727.6,452.1 L728.5,452.1 L729.4,452.1 L730.4,452.1 L731.3,452.1 L732.3,452.1 L733.2,452.1 L734.1,452.1 L735.1,451.0 L736.0,450.6 L737.0,450.8 L737.9,449.6 L738.9,449.8 L739.8,448.4 L740.7,447.1 L741.7,448.7 L742.6,446.1 L743.6,448.0 L744.5,444.9 L745.5,447.7 L746.4,445.5 L747.3,444.6 L748.3,442.7 L749.2,443.3 L750.2,445.2 L751.1,444.5 L752.0,442.0 L753.0,440.7 L753.9,442.6 L754.9,442.9 L755.8,443.2 L756.8,442.1 L757.7,441.5 L758.6,439.7 L759.6,440.6 L760.5,443.7 L761.5,438.9 L762.4,439.6 L763.4,440.8 L764.3,439.6 L765.2,440.0 L766.2,438.8 L767.1,439.8 L768.1,441.1 L769.0,439.8 L769.9,439.0 L770.9,436.3 L771.8,438.5 L772.8,437.7 L773.7,436.5 L774.7,438.2 L775.6,438.0 L776.5,440.6 L777.5,437.0 L778.4,437.3 L779.4,433.7 L780.3,438.9 L781.2,439.5 L782.2,438.6 L783.1,438.3 L784.1,437.2 L785.0,437.3 L786.0,439.4 L786.9,435.6 L787.8,437.1 L788.8,437.0 L789.7,434.8 L790.7,435.9 L791.6,434.7 L792.6,438.4 L793.5,437.5 L794.4,436.9 L795.4,436.4 L796.3,436.6 L797.3,435.5 L798.2,437.0 L799.1,437.5 L800.1,434.5 L801.0,436.2 L802.0,437.2 L802.9,436.1 L803.9,436.4 L804.8,438.5 L805.7,434.2 L806.7,435.9 L807.6,436.5 L808.6,438.1 L809.5,434.5 L810.5,437.1 L811.4,437.4 L812.3,436.1 L813.3,438.4 L814.2,435.7 L815.2,434.6 L816.1,437.6 L817.0,437.5 L818.0,436.7 L818.9,438.7 L819.9,435.6 L820.8,438.0 L821.8,437.2 L822.7,436.6 L823.6,434.8 L824.6,435.3 L825.5,435.3 L826.5,438.3 L827.4,436.3 L828.3,436.5 L829.3,438.7 L830.2,436.7 L831.2,434.2 L832.1,435.6 L833.1,435.7 L834.0,434.6 L834.9,435.4 L835.9,434.6 L836.8,435.7 L837.8,433.5 L838.7,434.4 L839.7,435.5 L840.6,436.8 L841.5,433.5 L842.5,435.7 L843.4,432.3 L844.4,438.4 L845.3,436.3 L846.2,433.1 L847.2,437.8 L848.1,434.7 L849.1,437.1 L850.0,431.5 L851.0,437.5 L851.9,434.6 L852.8,436.5 L853.8,433.5 L854.7,435.9 L855.7,435.6 L856.6,436.5 L857.5,434.8 L858.5,435.9 L859.4,435.6 L859.4,453.0 Z" fill="#3018e0"/>
<path d="M645.6,453.0 L645.6,452.1 L646.5,452.1 L647.5,452.1 L648.4,452.1 L649.4,452.1 L650.3,452.1 L651.3,452.1 L652.2,452.1 L653.1,452.1 L654.1,452.1 L655.0,452.1 L656.0,452.1 L656.9,452.1 L657.8,452.1 L658.8,452.1 L659.7,452.1 L660.7,452.1 L661.6,452.1 L662.6,452.1 L663.5,452.1 L664.4,452.1 L665.4,452.1 L666.3,452.1 L667.3,452.1 L668.2,452.1 L669.1,452.1 L670.1,452.1 L671.0,452.1 L672.0,452.1 L672.9,452.1 L673.9,452.1 L674.8,452.1 L675.7,452.1 L676.7,452.1 L677.6,452.1 L678.6,452.1 L679.5,452.1 L680.5,452.1 L681.4,452.1 L682.3,452.1 L683.3,452.1 L684.2,452.1 L685.2,452.1 L686.1,452.1 L687.0,452.1 L688.0,452.1 L688.9,452.1 L689.9,452.1 L690.8,452.1 L691.8,452.1 L692.7,452.1 L693.6,452.1 L694.6,452.1 L695.5,452.1 L696.5,452.1 L697.4,452.1 L698.4,452.1 L699.3,452.1 L700.2,452.1 L701.2,452.1 L702.1,452.1 L703.1,452.1 L704.0,452.1 L704.9,452.1 L705.9,452.1 L706.8,452.1 L707.8,452.1 L708.7,452.1 L709.7,452.1 L710.6,452.1 L711.5,452.1 L712.5,452.1 L713.4,452.1 L714.4,452.1 L715.3,452.1 L716.2,452.1 L717.2,452.1 L718.1,452.1 L719.1,452.1 L720.0,452.1 L721.0,452.1 L721.9,452.1 L722.8,452.1 L723.8,452.1 L724.7,452.1 L725.7,452.1 L726.6,452.1 L727.6,452.1 L728.5,452.1 L729.4,452.1 L730.4,452.1 L731.3,452.1 L732.3,452.1 L733.2,452.1 L734.1,452.1 L735.1,452.1 L736.0,452.1 L737.0,452.1 L737.9,451.7 L738.9,451.8 L739.8,451.5 L740.7,451.2 L741.7,450.4 L742.6,450.0 L743.6,450.0 L744.5,450.2 L745.5,450.1 L746.4,451.4 L747.3,448.8 L748.3,448.9 L749.2,448.8 L750.2,448.7 L751.1,449.4 L752.0,448.5 L753.0,448.6 L753.9,448.6 L754.9,446.8 L755.8,448.2 L756.8,447.3 L757.7,447.0 L758.6,446.7 L759.6,447.5 L760.5,445.9 L761.5,447.8 L762.4,446.6 L763.4,446.9 L764.3,445.7 L765.2,447.2 L766.2,446.7 L767.1,446.4 L768.1,444.4 L769.0,445.0 L769.9,443.8 L770.9,444.3 L771.8,445.8 L772.8,445.5 L773.7,444.4 L774.7,446.7 L775.6,445.8 L776.5,446.7 L777.5,445.5 L778.4,446.9 L779.4,445.8 L780.3,444.6 L781.2,444.3 L782.2,444.8 L783.1,444.4 L784.1,444.8 L785.0,444.7 L786.0,443.9 L786.9,445.3 L787.8,445.2 L788.8,445.8 L789.7,443.8 L790.7,445.5 L791.6,444.1 L792.6,444.9 L793.5,444.6 L794.4,444.1 L795.4,445.5 L796.3,446.1 L797.3,444.0 L798.2,443.5 L799.1,445.3 L800.1,445.8 L801.0,445.5 L802.0,444.6 L802.9,445.3 L803.9,446.0 L804.8,445.3 L805.7,444.3 L806.7,445.5 L807.6,445.7 L808.6,443.0 L809.5,443.9 L810.5,444.6 L811.4,444.8 L812.3,442.8 L813.3,443.5 L814.2,444.0 L815.2,444.9 L816.1,444.6 L817.0,444.5 L818.0,443.1 L818.9,444.5 L819.9,444.7 L820.8,444.6 L821.8,444.7 L822.7,444.2 L823.6,443.9 L824.6,444.4 L825.5,443.5 L826.5,443.7 L827.4,444.7 L828.3,444.8 L829.3,446.3 L830.2,444.7 L831.2,442.5 L832.1,443.7 L833.1,445.6 L834.0,445.8 L834.9,444.4 L835.9,445.3 L836.8,445.5 L837.8,445.6 L838.7,445.7 L839.7,445.8 L840.6,441.8 L841.5,444.7 L842.5,442.4 L843.4,443.1 L844.4,444.5 L845.3,445.4 L846.2,443.7 L847.2,443.4 L848.1,443.3 L849.1,443.9 L850.0,443.2 L851.0,444.9 L851.9,443.4 L852.8,446.1 L853.8,445.6 L854.7,443.5 L855.7,443.3 L856.6,445.0 L857.5,443.4 L858.5,444.4 L859.4,443.9 L859.4,453.0 Z" fill="#d0662e"/>
  <path d="M646,452.2 L716,452.2" fill="none" stroke="#a04070" stroke-width="1.6" opacity="0.8"/>
  <path d="M646.5,451 L647.5,441 L648.5,452 L650,449 L651,452" fill="none" stroke="#4050c0" stroke-width="1"/>
  <ellipse cx="664" cy="450.5" rx="2.3" ry="1.6" fill="#208040"/>
  <path d="M646,351 L646,453 L860,453" fill="none" stroke="#505050" stroke-width="0.9" stroke-dasharray="1.2,0.6"/>
  <g class="sans" font-size="7.2" fill="#2a2a2a" text-anchor="middle"><text x="645.6" y="463">0</text><text x="669.1" y="463">5</text><text x="692.7" y="463">10</text><text x="716.2" y="463">15</text><text x="739.8" y="463">20</text><text x="763.4" y="463">25</text><text x="786.9" y="463">30</text><text x="810.5" y="463">35</text><text x="834.0" y="463">40</text>
    <text x="751" y="473">Time [min]</text>
  </g>
  <g class="sans" font-size="7.2" fill="#2a2a2a" text-anchor="end">
    <text x="642" y="369">1.5</text><text x="642" y="397.5">1.0</text><text x="642" y="426.5">0.5</text><text x="642" y="455.5">0.0</text>
  </g>
  <text class="sans" x="625" y="346.4" font-size="6.6" fill="#222">Intens.</text>
  <text class="sans" x="631" y="356.5" font-size="6.8" fill="#222">×10<tspan font-size="4.5" dy="-3">6</tspan></text>
</g>
<!-- ============ ORANGE FRAME ============ -->
<defs>
  <linearGradient id="gOrL" x1="0" y1="0" x2="0" y2="1"><stop offset="0" stop-color="#ea8c26"/><stop offset="1" stop-color="#c66e2a"/></linearGradient>
  <linearGradient id="gOrR" x1="0" y1="0" x2="0" y2="1"><stop offset="0" stop-color="#ea8a28"/><stop offset="1" stop-color="#c8702a"/></linearGradient>
</defs>
<g filter="url(#sh)"><rect x="80" y="226.5" width="443" height="286.5" fill="#fff"/></g>
<path d="M80,226.5 L523,226.5 L518.5,230 L84,230 Z" fill="url(#gOrTop)"/>
<path d="M80,226.5 L84,230 L84,509.8 L80,513 Z" fill="url(#gOrL)"/>
<path d="M523,226.5 L523,513 L518.5,509.8 L518.5,230 Z" fill="url(#gOrR)"/>
<path d="M80,513 L523,513 L518.5,509.8 L84,509.8 Z" fill="#bf6a2a"/>
<!-- PLOTS -->
<path d="M130.4,342.0 L133.4,339.9 L136.4,337.8 L139.4,335.7 L142.4,333.6 L145.4,331.6 L148.4,329.5 L151.4,327.5 L154.4,325.5 L157.4,323.5 L160.4,321.5 L163.4,319.6 L166.4,317.7 L169.4,315.7 L172.4,313.8 L175.4,312.0 L178.4,310.1 L181.4,308.3 L184.4,306.4 L187.4,304.6 L190.4,302.8 L193.4,301.0 L196.4,299.3 L199.4,297.5 L202.4,295.8 L205.4,294.1 L208.4,292.4 L211.4,290.8 L214.4,289.1 L217.4,287.5 L220.4,285.8 L223.4,284.2 L226.4,282.7 L229.4,281.1 L232.4,279.5 L235.4,278.0 L238.4,276.5 L241.4,275.0 L244.4,273.5 L247.4,272.1 L250.4,270.6 L253.4,269.2 L256.4,267.8 L259.4,266.4 L262.4,265.0 L265.4,263.6 L268.4,262.3 L271.4,261.0 L274.4,259.7 L277.4,258.4 L279.0,257.7" fill="none" stroke="#f07070" stroke-width="1.1"/>
<rect x="127.3" y="239.3" width="170.0" height="105.4" fill="none" stroke="#858585" stroke-width="1"/>
<g stroke="#858585" stroke-width="0.8"><path d="M125.3,239.3 L127.3,239.3"/><path d="M125.3,265.0 L127.3,265.0"/><path d="M125.3,290.8 L127.3,290.8"/><path d="M125.3,316.5 L127.3,316.5"/><path d="M125.3,342.2 L127.3,342.2"/></g>
<g stroke="#858585" stroke-width="0.8"><path d="M131.0,344.7 L131.0,346.7"/><path d="M185.3,344.7 L185.3,346.7"/><path d="M242.4,344.7 L242.4,346.7"/><path d="M297.3,344.7 L297.3,346.7"/></g>
<g font-size="4.944999999999999" font-weight="bold" fill="#111" text-anchor="end">
<text x="123.0" y="240.8">400000</text>
<text x="123.0" y="266.5">300000</text>
<text x="123.0" y="292.3">200000</text>
<text x="123.0" y="318.0">100000</text>
<text x="123.0" y="343.7">0</text>
</g>
<g font-size="4.944999999999999" font-weight="bold" fill="#111" text-anchor="middle">
<text x="131.0" y="353.5">0</text>
<text x="185.3" y="353.5">300</text>
<text x="242.4" y="353.5">600</text>
<text x="297.3" y="353.5">900</text>
</g>
<text x="212.4" y="365" font-size="7.6" font-weight="bold" fill="#222" text-anchor="middle">[Pseudoephedrine] (10<tspan font-size="3.5" dy="-2">-6</tspan><tspan dy="2"> mol/L)</tspan></text>
<text transform="translate(100,297) rotate(-90)" font-size="6" font-weight="bold" fill="#222" text-anchor="middle"><tspan font-style="italic">q</tspan> (10<tspan font-size="3.6" dy="-2">-10</tspan><tspan dy="2"> mol)</tspan></text>
<rect x="129.1" y="340.3" width="2.6" height="2.6" fill="#3a3ad8"/>
<rect x="130.2" y="339.7" width="2.6" height="2.6" fill="#3a3ad8"/>
<rect x="131.2" y="339.2" width="2.6" height="2.6" fill="#3a3ad8"/>
<rect x="141.0" y="332.7" width="2.6" height="2.6" fill="#3a3ad8"/>
<rect x="158.7" y="320.5" width="2.6" height="2.6" fill="#3a3ad8"/>
<rect x="277.7" y="256.4" width="2.6" height="2.6" fill="#3a3ad8"/>
<path d="M333.0,249.0 C333.1,250.5 333.4,255.2 333.6,258.0 C333.8,260.8 334.0,263.3 334.3,266.0 C334.6,268.7 335.0,271.3 335.5,274.0 C336.0,276.7 336.6,279.4 337.5,282.0 C338.4,284.6 339.4,286.9 341.0,289.5 C342.6,292.1 344.7,295.2 347.0,297.5 C349.3,299.8 351.0,301.2 355.0,303.5 C359.0,305.8 365.2,308.6 371.0,311.0 C376.8,313.4 381.8,315.6 390.0,318.0 C398.2,320.4 409.2,323.2 420.0,325.5 C430.8,327.8 443.3,330.1 455.0,332.0 C466.7,333.9 484.2,336.2 490.0,337.0" fill="none" stroke="#f07070" stroke-width="1.1"/>
<rect x="329" y="237.9" width="171.0" height="106.9" fill="none" stroke="#858585" stroke-width="1"/>
<g stroke="#858585" stroke-width="0.8"><path d="M327,237.9 L329,237.9"/><path d="M327,273.6 L329,273.6"/><path d="M327,308.8 L329,308.8"/><path d="M327,343.3 L329,343.3"/></g>
<g stroke="#858585" stroke-width="0.8"><path d="M332.0,344.8 L332.0,346.8"/><path d="M365.7,344.8 L365.7,346.8"/><path d="M399.3,344.8 L399.3,346.8"/><path d="M432.9,344.8 L432.9,346.8"/><path d="M466.5,344.8 L466.5,346.8"/><path d="M500.0,344.8 L500.0,346.8"/></g>
<g font-size="5.175" font-weight="bold" fill="#111" text-anchor="end">
<text x="324.5" y="239.7">7</text>
<text x="324.5" y="275.4">6</text>
<text x="324.5" y="310.6">5</text>
<text x="324.5" y="345.1">4</text>
</g>
<g font-size="4.944999999999999" font-weight="bold" fill="#111" text-anchor="middle">
<text x="332.0" y="354.0">0</text>
<text x="365.7" y="354.0">7000</text>
<text x="399.3" y="354.0">14000</text>
<text x="432.9" y="354.0">21000</text>
<text x="466.5" y="354.0">28000</text>
<text x="500.0" y="354.0">35000</text>
</g>
<text x="413" y="366.5" font-size="7" font-weight="bold" fill="#222" text-anchor="middle"><tspan font-style="italic">q</tspan> (10<tspan font-size="3.6" dy="-2">-10</tspan><tspan dy="2"> mol)</tspan></text>
<text transform="translate(312.5,293.4) rotate(-90)" font-size="5.4" font-weight="bold" fill="#222" text-anchor="middle" textLength="64" lengthAdjust="spacingAndGlyphs"><tspan font-style="italic">q</tspan>/[Pseudoephedrine] (10<tspan font-size="3" dy="-2">-3</tspan><tspan dy="2"> L)</tspan></text>
<circle cx="332.7" cy="251.6" r="1.4" fill="#4a4ae0"/>
<circle cx="332.7" cy="263.9" r="1.4" fill="#4a4ae0"/>
<circle cx="333.2" cy="266.3" r="1.4" fill="#4a4ae0"/>
<circle cx="334.2" cy="278.5" r="1.4" fill="#4a4ae0"/>
<circle cx="335.7" cy="285.2" r="1.4" fill="#4a4ae0"/>
<circle cx="347.3" cy="299.6" r="1.4" fill="#4a4ae0"/>
<circle cx="370.9" cy="310.3" r="1.4" fill="#4a4ae0"/>
<circle cx="489.4" cy="339.6" r="1.4" fill="#4a4ae0"/>
<g fill="none" stroke-width="1">
<path d="M122.4,377.5 L122.8,380.0 L123.2,383.5 L123.6,387.4 L124.0,391.6 L124.4,395.9 L124.8,400.2 L125.2,404.6 L125.6,408.9 L126.0,413.1 L126.4,417.2 L126.8,421.1 L127.2,424.9 L127.6,428.6 L128.0,432.1 L128.4,435.5 L128.8,438.7 L129.2,441.7 L129.6,444.6 L130.0,447.3 L130.4,449.8 L130.8,452.2 L131.2,454.5 L131.6,456.6 L132.0,458.6 L132.4,460.5 L132.8,462.2 L133.2,463.8 L133.6,465.3 L134.0,466.7 L134.4,468.0 L134.8,469.2 L135.2,470.3 L135.6,471.3 L136.0,472.3 L136.4,473.1 L136.8,473.9 L137.2,474.7 L137.6,475.4 L138.0,476.0 L138.4,476.6 L138.8,477.1 L139.2,477.6 L139.6,478.0 L140.0,478.4 L140.4,478.8 L140.8,479.2 L141.2,479.5 L141.6,479.8 L142.0,480.0 L142.4,480.3 L142.8,480.5 L143.2,480.7 L143.6,480.8 L144.0,481.0 L144.4,481.1 L144.8,481.3 L145.2,481.4 L145.6,481.5 L146.0,481.6 L146.4,481.7 L146.8,481.8 L147.2,481.8 L147.6,481.9 L148.0,482.0 L148.4,482.0 L148.8,482.1 L149.2,482.1 L149.6,482.2 L150.0,482.2 L150.4,482.2 L150.8,482.3 L151.2,482.3 L151.6,482.3 L152.0,482.3 L152.4,482.3 L152.8,482.4 L153.2,482.4 L153.6,482.4 L154.0,482.4 L154.4,482.4 L154.8,482.4 L155.2,482.4 L155.6,482.4 L156.0,482.4 L156.4,482.5 L156.8,482.5 L157.2,482.5 L157.6,482.5 L158.0,482.5 L296.0,482.5" stroke="#f4a0b0" stroke-dasharray="2,1"/>
<path d="M122.4,406.5 L122.8,408.4 L123.2,411.1 L123.6,414.1 L124.0,417.2 L124.4,420.5 L124.8,423.8 L125.2,427.1 L125.6,430.3 L126.0,433.4 L126.4,436.5 L126.8,439.4 L127.2,442.3 L127.6,445.0 L128.0,447.6 L128.4,450.0 L128.8,452.3 L129.2,454.5 L129.6,456.6 L130.0,458.6 L130.4,460.4 L130.8,462.1 L131.2,463.7 L131.6,465.2 L132.0,466.6 L132.4,467.9 L132.8,469.1 L133.2,470.2 L133.6,471.3 L134.0,472.2 L134.4,473.1 L134.8,473.9 L135.2,474.7 L135.6,475.4 L136.0,476.0 L136.4,476.6 L136.8,477.1 L137.2,477.6 L137.6,478.1 L138.0,478.5 L138.4,478.9 L138.8,479.2 L139.2,479.5 L139.6,479.8 L140.0,480.1 L140.4,480.3 L140.8,480.5 L141.2,480.7 L141.6,480.9 L142.0,481.1 L142.4,481.2 L142.8,481.3 L143.2,481.4 L143.6,481.6 L144.0,481.6 L144.4,481.7 L144.8,481.8 L145.2,481.9 L145.6,482.0 L146.0,482.0 L146.4,482.1 L146.8,482.1 L147.2,482.1 L147.6,482.2 L148.0,482.2 L148.4,482.3 L148.8,482.3 L149.2,482.3 L149.6,482.3 L150.0,482.3 L150.4,482.4 L150.8,482.4 L151.2,482.4 L151.6,482.4 L152.0,482.4 L152.4,482.4 L152.8,482.4 L153.2,482.4 L153.6,482.4 L154.0,482.5 L154.4,482.5 L154.8,482.5 L155.2,482.5 L155.6,482.5 L156.0,482.5 L156.4,482.5 L156.8,482.5 L157.2,482.5 L157.6,482.5 L158.0,482.5 L296.0,482.5" stroke="#40c0e0" stroke-dasharray="2,1"/>
<path d="M122.4,408.5 L122.8,410.4 L123.2,413.1 L123.6,416.1 L124.0,419.3 L124.4,422.6 L124.8,425.9 L125.2,429.2 L125.6,432.4 L126.0,435.5 L126.4,438.6 L126.8,441.5 L127.2,444.3 L127.6,447.0 L128.0,449.5 L128.4,451.9 L128.8,454.2 L129.2,456.3 L129.6,458.3 L130.0,460.2 L130.4,462.0 L130.8,463.7 L131.2,465.2 L131.6,466.6 L132.0,468.0 L132.4,469.2 L132.8,470.3 L133.2,471.4 L133.6,472.4 L134.0,473.3 L134.4,474.1 L134.8,474.9 L135.2,475.6 L135.6,476.2 L136.0,476.8 L136.4,477.3 L136.8,477.8 L137.2,478.3 L137.6,478.7 L138.0,479.0 L138.4,479.4 L138.8,479.7 L139.2,480.0 L139.6,480.2 L140.0,480.4 L140.4,480.6 L140.8,480.8 L141.2,481.0 L141.6,481.2 L142.0,481.3 L142.4,481.4 L142.8,481.5 L143.2,481.6 L143.6,481.7 L144.0,481.8 L144.4,481.9 L144.8,481.9 L145.2,482.0 L145.6,482.1 L146.0,482.1 L146.4,482.2 L146.8,482.2 L147.2,482.2 L147.6,482.3 L148.0,482.3 L148.4,482.3 L148.8,482.3 L149.2,482.3 L149.6,482.4 L150.0,482.4 L150.4,482.4 L150.8,482.4 L151.2,482.4 L151.6,482.4 L152.0,482.4 L152.4,482.4 L152.8,482.4 L153.2,482.5 L153.6,482.5 L154.0,482.5 L154.4,482.5 L154.8,482.5 L155.2,482.5 L155.6,482.5 L156.0,482.5 L156.4,482.5 L156.8,482.5 L157.2,482.5 L157.6,482.5 L158.0,482.5 L296.0,482.5" stroke="#50d8e0" stroke-dasharray="0"/>
<path d="M122.4,402.5 L122.8,404.4 L123.2,407.1 L123.6,410.2 L124.0,413.4 L124.4,416.8 L124.8,420.1 L125.2,423.5 L125.6,426.8 L126.0,430.0 L126.4,433.2 L126.8,436.2 L127.2,439.1 L127.6,441.9 L128.0,444.6 L128.4,447.2 L128.8,449.6 L129.2,452.0 L129.6,454.1 L130.0,456.2 L130.4,458.2 L130.8,460.0 L131.2,461.7 L131.6,463.3 L132.0,464.8 L132.4,466.2 L132.8,467.5 L133.2,468.7 L133.6,469.8 L134.0,470.9 L134.4,471.8 L134.8,472.7 L135.2,473.6 L135.6,474.3 L136.0,475.0 L136.4,475.7 L136.8,476.3 L137.2,476.8 L137.6,477.3 L138.0,477.8 L138.4,478.2 L138.8,478.6 L139.2,479.0 L139.6,479.3 L140.0,479.6 L140.4,479.9 L140.8,480.1 L141.2,480.3 L141.6,480.5 L142.0,480.7 L142.4,480.9 L142.8,481.1 L143.2,481.2 L143.6,481.3 L144.0,481.4 L144.4,481.5 L144.8,481.6 L145.2,481.7 L145.6,481.8 L146.0,481.9 L146.4,481.9 L146.8,482.0 L147.2,482.0 L147.6,482.1 L148.0,482.1 L148.4,482.2 L148.8,482.2 L149.2,482.2 L149.6,482.3 L150.0,482.3 L150.4,482.3 L150.8,482.3 L151.2,482.4 L151.6,482.4 L152.0,482.4 L152.4,482.4 L152.8,482.4 L153.2,482.4 L153.6,482.4 L154.0,482.4 L154.4,482.4 L154.8,482.4 L155.2,482.5 L155.6,482.5 L156.0,482.5 L156.4,482.5 L156.8,482.5 L157.2,482.5 L157.6,482.5 L158.0,482.5 L296.0,482.5" stroke="#6080d8" stroke-dasharray="1.5,1"/>
</g>
<rect x="122.4" y="376.4" width="173.6" height="107.0" fill="none" stroke="#858585" stroke-width="1"/>
<g stroke="#858585" stroke-width="0.8"><path d="M120.4,376.1 L122.4,376.1"/><path d="M120.4,403.0 L122.4,403.0"/><path d="M120.4,429.6 L122.4,429.6"/><path d="M120.4,456.2 L122.4,456.2"/><path d="M120.4,482.7 L122.4,482.7"/></g>
<g stroke="#858585" stroke-width="0.8"><path d="M137.3,483.4 L137.3,485.4"/><path d="M162.9,483.4 L162.9,485.4"/><path d="M188.3,483.4 L188.3,485.4"/><path d="M214.6,483.4 L214.6,485.4"/><path d="M239.9,483.4 L239.9,485.4"/><path d="M265.6,483.4 L265.6,485.4"/><path d="M291.5,483.4 L291.5,485.4"/></g>
<g font-size="4.944999999999999" font-weight="bold" fill="#111" text-anchor="end">
<text x="117.0" y="377.6">4000</text>
<text x="117.0" y="404.5">3000</text>
<text x="117.0" y="431.1">2000</text>
<text x="117.0" y="457.7">1000</text>
<text x="117.0" y="484.2">0</text>
</g>
<g font-size="5.175" font-weight="bold" fill="#111" text-anchor="middle">
<text x="137.3" y="492.5">6</text>
<text x="162.9" y="492.5">8</text>
<text x="188.3" y="492.5">10</text>
<text x="214.6" y="492.5">12</text>
<text x="239.9" y="492.5">14</text>
<text x="265.6" y="492.5">16</text>
<text x="291.5" y="492.5">18</text>
</g>
<text x="209" y="503.3" font-size="7.2" font-weight="bold" fill="#222" text-anchor="middle">ln <tspan font-style="italic">b</tspan></text>
<text transform="translate(100,435) rotate(-90)" font-size="6.8" font-weight="bold" fill="#222" text-anchor="middle"><tspan font-style="italic">q</tspan><tspan font-size="3.6" dy="1.5">c</tspan><tspan dy="-1.5"> (10</tspan><tspan font-size="3.6" dy="-2">-6</tspan><tspan dy="2"> mol)</tspan></text>
<rect x="173" y="391.8" width="105.7" height="64.5" fill="#fff" stroke="#858585" stroke-width="1"/>
<path d="M173.5,446.9 L174.0,447.8 L174.5,448.6 L175.0,449.3 L175.5,449.9 L176.0,450.5 L176.5,451.0 L177.0,451.5 L177.5,451.9 L178.0,452.2 L178.5,452.6 L179.0,452.9 L179.5,453.1 L180.0,453.4 L180.5,453.6 L181.0,453.8 L181.5,453.9 L182.0,454.1 L182.5,454.2 L183.0,454.3 L183.5,454.4 L184.0,454.5 L184.5,454.5 L185.0,454.5 L185.5,454.4 L186.0,454.0 L186.5,453.4 L187.0,452.4 L187.5,450.7 L188.0,448.2 L188.5,444.8 L189.0,440.2 L189.5,434.5 L190.0,427.8 L190.5,420.6 L191.0,413.5 L191.5,407.1 L192.0,402.2 L192.5,399.3 L193.0,399.3 L193.5,406.0 L194.0,418.1 L194.5,431.1 L195.0,441.9 L195.5,448.9 L196.0,452.7 L196.5,454.4 L197.0,455.1 L197.5,455.3 L198.0,455.3 L198.5,455.4 L199.0,455.4 L199.5,455.4 L200.0,455.4 L200.5,455.4 L201.0,455.4 L201.5,455.4 L202.0,455.4 L202.5,455.4 L203.0,455.4 L203.5,455.4 L204.0,455.4 L204.5,455.4 L205.0,455.4 L205.5,455.4 L206.0,455.4 L206.5,455.4 L207.0,455.4 L207.5,455.4 L208.0,455.4 L208.5,455.4 L209.0,455.4 L209.5,455.4 L210.0,455.4 L210.5,455.4 L211.0,455.4 L211.5,455.4 L212.0,455.4 L212.5,455.4 L213.0,455.4 L213.5,455.4 L214.0,455.4 L214.5,455.4 L215.0,455.4 L215.5,455.4 L216.0,455.4 L216.5,455.4 L217.0,455.4 L217.5,455.4 L218.0,455.4 L218.5,455.4 L219.0,455.4 L219.5,455.4 L220.0,455.4 L220.5,455.4 L221.0,455.4 L221.5,455.4 L222.0,455.4 L222.5,455.4 L223.0,455.4 L223.5,455.4 L224.0,455.4 L224.5,455.4 L225.0,455.4 L225.5,455.4 L226.0,455.4 L226.5,455.4 L227.0,455.4 L227.5,455.4 L228.0,455.4 L228.5,455.4 L229.0,455.4 L229.5,455.4 L230.0,455.4 L230.5,455.4 L231.0,455.4 L231.5,455.4 L232.0,455.4 L232.5,455.4 L233.0,455.4 L233.5,455.4 L234.0,455.4 L234.5,455.4 L235.0,455.4 L235.5,455.4 L236.0,455.4 L236.5,455.4 L237.0,455.4 L237.5,455.4 L238.0,455.4 L238.5,455.4 L239.0,455.4 L239.5,455.4 L240.0,455.4 L240.5,455.4 L241.0,455.4 L241.5,455.4 L242.0,455.4 L242.5,455.4 L243.0,455.4 L243.5,455.4 L244.0,455.4 L244.5,455.4 L245.0,455.4 L245.5,455.4 L246.0,455.4 L246.5,455.4 L247.0,455.4 L247.5,455.4 L248.0,455.4 L248.5,455.4 L249.0,455.4 L249.5,455.4 L250.0,455.4 L250.5,455.4 L251.0,455.4 L251.5,455.4 L252.0,455.4 L252.5,455.4 L253.0,455.4 L253.5,455.4 L254.0,455.4 L254.5,455.4 L255.0,455.4 L255.5,455.4 L256.0,455.4 L256.5,455.4 L257.0,455.4 L257.5,455.4 L258.0,455.4 L258.5,455.4 L259.0,455.4 L259.5,455.4 L260.0,455.4 L260.5,455.4 L261.0,455.4 L261.5,455.4 L262.0,455.4 L262.5,455.4 L263.0,455.4 L263.5,455.4 L264.0,455.4 L264.5,455.4 L265.0,455.4 L265.5,455.4 L266.0,455.4 L266.5,455.4 L267.0,455.4 L267.5,455.4 L268.0,455.4 L268.5,455.4 L269.0,455.4 L269.5,455.4 L270.0,455.4 L270.5,455.4 L271.0,455.4 L271.5,455.4 L272.0,455.4 L272.5,455.4 L273.0,455.4 L273.5,455.4 L274.0,455.4 L274.5,455.4 L275.0,455.4 L275.5,455.4 L276.0,455.4 L276.5,455.4 L277.0,455.4 L277.5,455.4" fill="none" stroke="#f8ee80" stroke-width="1.2" stroke-dasharray="0"/>
<path d="M173.5,421.7 L174.0,425.9 L174.5,429.6 L175.0,432.8 L175.5,435.6 L176.0,438.0 L176.5,440.2 L177.0,442.1 L177.5,443.7 L178.0,445.2 L178.5,446.4 L179.0,447.6 L179.5,448.5 L180.0,449.4 L180.5,450.1 L181.0,450.8 L181.5,451.3 L182.0,451.8 L182.5,452.2 L183.0,452.6 L183.5,452.9 L184.0,453.0 L184.5,453.1 L185.0,453.0 L185.5,452.8 L186.0,452.3 L186.5,451.5 L187.0,450.3 L187.5,448.7 L188.0,446.6 L188.5,443.8 L189.0,440.5 L189.5,436.6 L190.0,432.3 L190.5,427.7 L191.0,423.1 L191.5,418.7 L192.0,414.8 L192.5,411.7 L193.0,409.6 L193.5,408.8 L194.0,410.5 L194.5,416.7 L195.0,425.6 L195.5,434.8 L196.0,442.7 L196.5,448.4 L197.0,451.9 L197.5,453.8 L198.0,454.8 L198.5,455.1 L199.0,455.3 L199.5,455.3 L200.0,455.3 L200.5,455.3 L201.0,455.3 L201.5,455.3 L202.0,455.3 L202.5,455.3 L203.0,455.3 L203.5,455.2 L204.0,455.2 L204.5,455.1 L205.0,455.0 L205.5,454.9 L206.0,454.8 L206.5,454.6 L207.0,454.4 L207.5,454.2 L208.0,454.0 L208.5,453.8 L209.0,453.5 L209.5,453.3 L210.0,453.0 L210.5,452.8 L211.0,452.5 L211.5,452.3 L212.0,452.1 L212.5,452.0 L213.0,451.8 L213.5,451.8 L214.0,451.8 L214.5,451.8 L215.0,451.8 L215.5,451.9 L216.0,452.0 L216.5,452.1 L217.0,452.3 L217.5,452.5 L218.0,452.7 L218.5,452.9 L219.0,453.1 L219.5,453.3 L220.0,453.5 L220.5,453.7 L221.0,453.9 L221.5,454.1 L222.0,454.2 L222.5,454.4 L223.0,454.5 L223.5,454.7 L224.0,454.8 L224.5,454.9 L225.0,455.0 L225.5,455.0 L226.0,455.1 L226.5,455.2 L227.0,455.2 L227.5,455.3 L228.0,455.3 L228.5,455.3 L229.0,455.3 L229.5,455.3 L230.0,455.4 L230.5,455.4 L231.0,455.4 L231.5,455.4 L232.0,455.4 L232.5,455.4 L233.0,455.4 L233.5,455.4 L234.0,455.4 L234.5,455.4 L235.0,455.4 L235.5,455.4 L236.0,455.4 L236.5,455.4 L237.0,455.4 L237.5,455.4 L238.0,455.4 L238.5,455.4 L239.0,455.4 L239.5,455.4 L240.0,455.4 L240.5,455.4 L241.0,455.4 L241.5,455.4 L242.0,455.4 L242.5,455.4 L243.0,455.4 L243.5,455.4 L244.0,455.4 L244.5,455.4 L245.0,455.4 L245.5,455.4 L246.0,455.4 L246.5,455.4 L247.0,455.4 L247.5,455.4 L248.0,455.4 L248.5,455.4 L249.0,455.4 L249.5,455.4 L250.0,455.4 L250.5,455.4 L251.0,455.4 L251.5,455.4 L252.0,455.4 L252.5,455.4 L253.0,455.4 L253.5,455.4 L254.0,455.4 L254.5,455.4 L255.0,455.4 L255.5,455.4 L256.0,455.4 L256.5,455.4 L257.0,455.4 L257.5,455.4 L258.0,455.4 L258.5,455.4 L259.0,455.4 L259.5,455.4 L260.0,455.4 L260.5,455.4 L261.0,455.4 L261.5,455.4 L262.0,455.4 L262.5,455.4 L263.0,455.4 L263.5,455.4 L264.0,455.4 L264.5,455.4 L265.0,455.4 L265.5,455.4 L266.0,455.4 L266.5,455.4 L267.0,455.4 L267.5,455.4 L268.0,455.4 L268.5,455.4 L269.0,455.4 L269.5,455.4 L270.0,455.4 L270.5,455.4 L271.0,455.4 L271.5,455.4 L272.0,455.4 L272.5,455.4 L273.0,455.4 L273.5,455.4 L274.0,455.4 L274.5,455.4 L275.0,455.4 L275.5,455.4 L276.0,455.4 L276.5,455.4 L277.0,455.4 L277.5,455.4" fill="none" stroke="#f07098" stroke-width="1.1" stroke-dasharray="2,1"/>
<path d="M173.5,444.3 L174.0,445.5 L174.5,446.5 L175.0,447.4 L175.5,448.3 L176.0,449.0 L176.5,449.7 L177.0,450.3 L177.5,450.8 L178.0,451.3 L178.5,451.7 L179.0,452.1 L179.5,452.4 L180.0,452.7 L180.5,453.0 L181.0,450.5 L181.5,450.7 L182.0,450.9 L182.5,451.1 L183.0,451.2 L183.5,451.3 L184.0,451.4 L184.5,451.4 L185.0,451.4 L185.5,451.3 L186.0,451.3 L186.5,451.1 L187.0,450.9 L187.5,450.6 L188.0,450.2 L188.5,449.8 L189.0,449.2 L189.5,448.5 L190.0,447.7 L190.5,446.8 L191.0,445.8 L191.5,444.6 L192.0,443.3 L192.5,441.9 L193.0,440.4 L193.5,438.9 L194.0,437.3 L194.5,435.7 L195.0,434.1 L195.5,432.6 L196.0,431.2 L196.5,430.0 L197.0,428.9 L197.5,428.2 L198.0,427.7 L198.5,427.6 L199.0,427.7 L199.5,428.8 L200.0,430.9 L200.5,433.7 L201.0,437.0 L201.5,440.5 L202.0,443.8 L202.5,446.8 L203.0,449.3 L203.5,451.2 L204.0,452.7 L204.5,453.8 L205.0,454.5 L205.5,454.9 L206.0,455.1 L206.5,455.3 L207.0,455.3 L207.5,455.4 L208.0,455.4 L208.5,455.4 L209.0,455.4 L209.5,455.4 L210.0,455.4 L210.5,455.4 L211.0,455.4 L211.5,455.4 L212.0,455.4 L212.5,455.4 L213.0,455.4 L213.5,455.4 L214.0,455.4 L214.5,455.4 L215.0,455.4 L215.5,455.4 L216.0,455.4 L216.5,455.4 L217.0,455.4 L217.5,455.4 L218.0,455.4 L218.5,455.4 L219.0,455.4 L219.5,455.4 L220.0,455.4 L220.5,455.4 L221.0,455.4 L221.5,455.4 L222.0,455.4 L222.5,455.4 L223.0,455.4 L223.5,455.4 L224.0,455.4 L224.5,455.4 L225.0,455.4 L225.5,455.4 L226.0,455.4 L226.5,455.4 L227.0,455.4 L227.5,455.4 L228.0,455.4 L228.5,455.4 L229.0,455.4 L229.5,455.4 L230.0,455.4 L230.5,455.4 L231.0,455.4 L231.5,455.4 L232.0,455.4 L232.5,455.4 L233.0,455.4 L233.5,455.4 L234.0,455.4 L234.5,455.4 L235.0,455.4 L235.5,455.4 L236.0,455.4 L236.5,455.4 L237.0,455.4 L237.5,455.4 L238.0,455.4 L238.5,455.4 L239.0,455.4 L239.5,455.4 L240.0,455.4 L240.5,455.4 L241.0,455.4 L241.5,455.4 L242.0,455.4 L242.5,455.4 L243.0,455.4 L243.5,455.4 L244.0,455.4 L244.5,455.4 L245.0,455.4 L245.5,455.4 L246.0,455.4 L246.5,455.4 L247.0,455.4 L247.5,455.4 L248.0,455.4 L248.5,455.4 L249.0,455.4 L249.5,455.4 L250.0,455.4 L250.5,455.4 L251.0,455.4 L251.5,455.4 L252.0,455.4 L252.5,455.4 L253.0,455.4 L253.5,455.4 L254.0,455.4 L254.5,455.4 L255.0,455.4 L255.5,455.4 L256.0,455.4 L256.5,455.4 L257.0,455.4 L257.5,455.4 L258.0,455.4 L258.5,455.3 L259.0,455.1 L259.5,454.1 L260.0,452.2 L260.5,450.3 L261.0,450.0 L261.5,451.0 L262.0,452.6 L262.5,453.9 L263.0,454.8 L263.5,455.2 L264.0,455.3 L264.5,455.4 L265.0,455.4 L265.5,455.4 L266.0,455.4 L266.5,455.4 L267.0,455.4 L267.5,455.4 L268.0,455.4 L268.5,455.4 L269.0,455.4 L269.5,455.4 L270.0,455.4 L270.5,455.4 L271.0,455.4 L271.5,455.4 L272.0,455.4 L272.5,455.4 L273.0,455.4 L273.5,455.4 L274.0,455.4 L274.5,455.4 L275.0,455.4 L275.5,455.4 L276.0,455.4 L276.5,455.4 L277.0,455.4 L277.5,455.4" fill="none" stroke="#48d4ea" stroke-width="1.2" stroke-dasharray="0"/>
<path d="M173.5,443.3 L174.0,444.4 L174.5,445.4 L175.0,446.3 L175.5,447.1 L176.0,447.9 L176.5,448.6 L177.0,449.2 L177.5,449.7 L178.0,450.2 L178.5,450.6 L179.0,451.0 L179.5,451.4 L180.0,451.6 L180.5,451.9 L181.0,452.0 L181.5,452.2 L182.0,452.3 L182.5,452.3 L183.0,452.3 L183.5,452.2 L184.0,452.2 L184.5,452.1 L185.0,452.0 L185.5,452.0 L186.0,451.9 L186.5,451.9 L187.0,451.9 L187.5,451.9 L188.0,451.9 L188.5,451.9 L189.0,451.9 L189.5,451.8 L190.0,451.7 L190.5,451.5 L191.0,451.3 L191.5,451.1 L192.0,450.7 L192.5,450.3 L193.0,449.8 L193.5,449.2 L194.0,448.5 L194.5,447.8 L195.0,446.9 L195.5,446.0 L196.0,445.1 L196.5,444.1 L197.0,443.1 L197.5,442.2 L198.0,441.2 L198.5,440.3 L199.0,439.5 L199.5,438.8 L200.0,438.2 L200.5,437.7 L201.0,437.3 L201.5,437.2 L202.0,437.1 L202.5,437.8 L203.0,439.4 L203.5,441.6 L204.0,444.2 L204.5,446.7 L205.0,449.1 L205.5,451.0 L206.0,452.5 L206.5,453.6 L207.0,454.3 L207.5,454.8 L208.0,455.1 L208.5,455.2 L209.0,455.3 L209.5,455.4 L210.0,455.4 L210.5,455.4 L211.0,455.4 L211.5,455.4 L212.0,455.4 L212.5,455.4 L213.0,455.4 L213.5,455.4 L214.0,455.4 L214.5,455.4 L215.0,455.4 L215.5,455.4 L216.0,455.4 L216.5,455.4 L217.0,455.4 L217.5,455.4 L218.0,455.4 L218.5,455.4 L219.0,455.4 L219.5,455.4 L220.0,455.4 L220.5,455.4 L221.0,455.4 L221.5,455.4 L222.0,455.4 L222.5,455.4 L223.0,455.4 L223.5,455.4 L224.0,455.4 L224.5,455.4 L225.0,455.4 L225.5,455.4 L226.0,455.4 L226.5,455.4 L227.0,455.4 L227.5,455.4 L228.0,455.4 L228.5,455.4 L229.0,455.4 L229.5,455.4 L230.0,455.4 L230.5,455.4 L231.0,455.4 L231.5,455.4 L232.0,455.4 L232.5,455.4 L233.0,455.4 L233.5,455.4 L234.0,455.4 L234.5,455.4 L235.0,455.4 L235.5,455.4 L236.0,455.4 L236.5,455.4 L237.0,455.4 L237.5,455.4 L238.0,455.4 L238.5,455.4 L239.0,455.4 L239.5,455.4 L240.0,455.4 L240.5,455.4 L241.0,455.4 L241.5,455.4 L242.0,455.4 L242.5,455.4 L243.0,455.4 L243.5,455.4 L244.0,455.4 L244.5,455.4 L245.0,455.4 L245.5,455.4 L246.0,455.4 L246.5,455.4 L247.0,455.4 L247.5,455.4 L248.0,455.4 L248.5,455.4 L249.0,455.4 L249.5,455.4 L250.0,455.4 L250.5,455.4 L251.0,455.4 L251.5,455.4 L252.0,455.4 L252.5,455.4 L253.0,455.4 L253.5,455.4 L254.0,455.4 L254.5,455.4 L255.0,455.4 L255.5,455.4 L256.0,455.4 L256.5,455.4 L257.0,455.4 L257.5,455.4 L258.0,455.4 L258.5,455.4 L259.0,455.4 L259.5,455.4 L260.0,455.4 L260.5,455.4 L261.0,455.4 L261.5,455.4 L262.0,455.4 L262.5,455.4 L263.0,455.4 L263.5,455.4 L264.0,455.4 L264.5,455.4 L265.0,455.4 L265.5,455.4 L266.0,455.4 L266.5,455.4 L267.0,455.4 L267.5,455.4 L268.0,455.4 L268.5,455.4 L269.0,455.4 L269.5,455.4 L270.0,455.4 L270.5,455.4 L271.0,455.4 L271.5,455.4 L272.0,455.4 L272.5,455.4 L273.0,455.4 L273.5,455.4 L274.0,455.4 L274.5,455.4 L275.0,455.4 L275.5,455.4 L276.0,455.4 L276.5,455.4 L277.0,455.4 L277.5,455.4" fill="none" stroke="#3858c0" stroke-width="1" stroke-dasharray="1.6,1.2"/>
<path d="M173.5,455.4 L174.0,455.4 L174.5,455.4 L175.0,455.4 L175.5,455.4 L176.0,455.4 L176.5,455.4 L177.0,455.4 L177.5,455.4 L178.0,455.4 L178.5,455.4 L179.0,455.4 L179.5,455.4 L180.0,455.4 L180.5,455.4 L181.0,455.4 L181.5,455.4 L182.0,455.4 L182.5,455.4 L183.0,455.4 L183.5,455.4 L184.0,455.4 L184.5,455.4 L185.0,455.4 L185.5,455.4 L186.0,455.4 L186.5,455.4 L187.0,455.4 L187.5,455.4 L188.0,455.4 L188.5,455.4 L189.0,455.4 L189.5,455.4 L190.0,455.4 L190.5,455.4 L191.0,455.3 L191.5,455.3 L192.0,455.3 L192.5,455.2 L193.0,455.2 L193.5,455.1 L194.0,455.0 L194.5,454.9 L195.0,454.7 L195.5,454.6 L196.0,454.4 L196.5,454.2 L197.0,453.9 L197.5,453.6 L198.0,453.4 L198.5,453.0 L199.0,452.7 L199.5,452.4 L200.0,452.1 L200.5,451.8 L201.0,451.5 L201.5,451.3 L202.0,451.1 L202.5,450.9 L203.0,450.9 L203.5,450.8 L204.0,450.9 L204.5,451.1 L205.0,451.4 L205.5,451.7 L206.0,452.1 L206.5,452.5 L207.0,453.0 L207.5,453.4 L208.0,453.8 L208.5,454.1 L209.0,454.4 L209.5,454.7 L210.0,454.9 L210.5,455.0 L211.0,455.1 L211.5,455.2 L212.0,455.3 L212.5,455.3 L213.0,455.3 L213.5,455.4 L214.0,455.4 L214.5,455.4 L215.0,455.4 L215.5,455.4 L216.0,455.4 L216.5,455.4 L217.0,455.4 L217.5,455.4 L218.0,455.4 L218.5,455.4 L219.0,455.4 L219.5,455.4 L220.0,455.4 L220.5,455.4 L221.0,455.4 L221.5,455.4 L222.0,455.4 L222.5,455.4 L223.0,455.4 L223.5,455.4 L224.0,455.4 L224.5,455.4 L225.0,455.4 L225.5,455.4 L226.0,455.4 L226.5,455.4 L227.0,455.4 L227.5,455.4 L228.0,455.4 L228.5,455.4 L229.0,455.4 L229.5,455.4 L230.0,455.4 L230.5,455.4 L231.0,455.4 L231.5,455.4 L232.0,455.4 L232.5,455.4 L233.0,455.4 L233.5,455.4 L234.0,455.4 L234.5,455.4 L235.0,455.4 L235.5,455.4 L236.0,455.4 L236.5,455.4 L237.0,455.4 L237.5,455.4 L238.0,455.4 L238.5,455.4 L239.0,455.4 L239.5,455.4 L240.0,455.4 L240.5,455.4 L241.0,455.4 L241.5,455.4 L242.0,455.4 L242.5,455.4 L243.0,455.4 L243.5,455.4 L244.0,455.4 L244.5,455.4 L245.0,455.4 L245.5,455.4 L246.0,455.4 L246.5,455.4 L247.0,455.4 L247.5,455.4 L248.0,455.4 L248.5,455.4 L249.0,455.4 L249.5,455.4 L250.0,455.4 L250.5,455.4 L251.0,455.4 L251.5,455.4 L252.0,455.4 L252.5,455.4 L253.0,455.4 L253.5,455.4 L254.0,455.4 L254.5,455.4 L255.0,455.4 L255.5,455.4 L256.0,455.4 L256.5,455.4 L257.0,455.4 L257.5,455.4 L258.0,455.4 L258.5,455.4 L259.0,455.3 L259.5,455.3 L260.0,455.2 L260.5,455.2 L261.0,455.1 L261.5,455.0 L262.0,454.9 L262.5,454.8 L263.0,454.7 L263.5,454.5 L264.0,454.4 L264.5,454.3 L265.0,454.2 L265.5,454.1 L266.0,454.0 L266.5,453.9 L267.0,453.9 L267.5,454.0 L268.0,454.0 L268.5,454.1 L269.0,454.2 L269.5,454.4 L270.0,454.5 L270.5,454.6 L271.0,454.8 L271.5,454.9 L272.0,455.0 L272.5,455.1 L273.0,455.2 L273.5,455.2 L274.0,455.3 L274.5,455.3 L275.0,455.3 L275.5,455.4 L276.0,455.4 L276.5,455.4 L277.0,455.4 L277.5,455.4" fill="none" stroke="#e07080" stroke-width="0.8" stroke-dasharray="1,1"/>
<g stroke="#858585" stroke-width="0.8"><path d="M171,400.7 L173,400.7"/><path d="M171,418.8 L173,418.8"/><path d="M171,437.0 L173,437.0"/><path d="M171,455.4 L173,455.4"/></g>
<g stroke="#858585" stroke-width="0.8"><path d="M188.3,456.3 L188.3,458.3"/><path d="M218.6,456.3 L218.6,458.3"/><path d="M248.3,456.3 L248.3,458.3"/><path d="M278.7,456.3 L278.7,458.3"/></g>
<g font-size="5.175" font-weight="bold" fill="#111" text-anchor="end">
<text x="170.0" y="402.2">3</text>
<text x="170.0" y="420.3">2</text>
<text x="170.0" y="438.5">1</text>
<text x="170.0" y="456.9">0</text>
</g>
<g font-size="5.175" font-weight="bold" fill="#111" text-anchor="middle">
<text x="188.3" y="462.8">8</text>
<text x="218.6" y="462.8">10</text>
<text x="248.3" y="462.8">12</text>
<text x="278.7" y="462.8">14</text>
</g>
<text x="226.4" y="471.5" font-size="7" font-weight="bold" fill="#222" text-anchor="middle">ln <tspan font-style="italic">b</tspan></text>
<text transform="translate(158,432.5) rotate(-90)" font-size="7.2" font-weight="bold" fill="#222" text-anchor="middle"><tspan font-style="italic">q</tspan><tspan font-size="3.6" dy="1.5">c</tspan><tspan dy="-1.5"> (10</tspan><tspan font-size="3.6" dy="-2">-6</tspan><tspan dy="2"> mol)</tspan></text>
<path d="M330.4,482.0 L357.4,482.0 L358.2,387.3 L358.7,387.3 L360.0,393.2 L361.3,398.8 L362.6,404.1 L363.9,409.0 L365.2,413.6 L366.5,417.9 L367.8,422.0 L369.1,425.8 L370.4,429.3 L371.7,432.7 L373.0,435.8 L374.3,438.7 L375.6,441.4 L376.9,444.0 L378.2,446.4 L379.5,448.6 L380.8,450.7 L382.1,452.7 L383.4,454.6 L384.7,456.3 L386.0,457.9 L387.3,459.4 L388.6,460.9 L389.9,462.2 L391.2,463.4 L392.4,464.6 L393.7,465.7 L395.0,466.7 L396.3,467.7 L397.6,468.6 L398.9,469.5 L400.2,470.2 L401.5,471.0 L402.8,471.7 L404.1,472.3 L405.4,472.9 L406.7,473.5 L408.0,474.1 L409.3,474.6 L410.6,475.0 L411.9,475.5 L413.2,475.9 L414.5,476.3 L415.8,476.6 L417.1,477.0 L418.4,477.3 L419.7,477.6 L421.0,477.9 L422.3,478.1 L423.6,478.4 L424.9,478.6 L426.2,478.8 L427.5,479.0 L428.8,479.2 L430.1,479.4 L431.4,479.5 L432.7,479.7 L434.0,479.8 L435.3,480.0 L436.6,480.1 L437.9,480.2 L439.1,480.3 L440.4,480.4 L441.7,480.5 L443.0,480.6 L444.3,480.7 L445.6,480.8 L446.9,480.9 L448.2,480.9 L449.5,481.0 L450.8,481.1 L452.1,481.1 L453.4,481.2 L454.7,481.2 L456.0,481.3 L457.3,481.3 L458.6,481.4 L459.9,481.4 L461.2,481.5 L462.5,481.5 L463.8,481.5 L465.1,481.5 L466.4,481.6 L467.7,481.6 L469.0,481.6 L470.3,481.7 L471.6,481.7 L472.9,481.7 L474.2,481.7 L475.5,481.7 L476.8,481.7 L478.1,481.8 L479.4,481.8 L480.7,481.8 L482.0,481.8 L483.3,481.8 L484.6,481.8 L485.8,481.8 L487.1,481.9 L488.4,481.9 L489.7,481.9 L491.0,481.9 L492.3,481.9 L493.6,481.9 L494.9,481.9 L496.2,481.9 L497.5,481.9 L498.8,481.9 L500.1,481.9 L501.4,481.9 L502.7,481.9" fill="none" stroke="#f07a7a" stroke-width="1.1"/>
<g fill="#8c8cf0"><circle cx="330.4" cy="482.0" r="1.1"/><circle cx="337.1" cy="482.0" r="1.1"/><circle cx="343.8" cy="482.0" r="1.1"/><circle cx="350.5" cy="482.0" r="1.1"/><circle cx="357.2" cy="482.0" r="1.1"/><circle cx="363.9" cy="409.0" r="1.1"/><circle cx="367.4" cy="420.7" r="1.1"/><circle cx="370.8" cy="430.5" r="1.1"/><circle cx="374.3" cy="438.7" r="1.1"/><circle cx="377.7" cy="445.6" r="1.1"/><circle cx="381.2" cy="451.4" r="1.1"/><circle cx="384.7" cy="456.3" r="1.1"/><circle cx="391.4" cy="463.6" r="1.1"/><circle cx="398.1" cy="468.9" r="1.1"/><circle cx="404.8" cy="472.6" r="1.1"/><circle cx="411.5" cy="475.3" r="1.1"/><circle cx="418.2" cy="477.2" r="1.1"/><circle cx="424.9" cy="478.6" r="1.1"/><circle cx="431.6" cy="479.6" r="1.1"/><circle cx="438.3" cy="480.3" r="1.1"/><circle cx="445.0" cy="480.8" r="1.1"/><circle cx="451.7" cy="481.1" r="1.1"/><circle cx="458.4" cy="481.4" r="1.1"/><circle cx="465.1" cy="481.5" r="1.1"/><circle cx="471.8" cy="481.7" r="1.1"/><circle cx="478.5" cy="481.8" r="1.1"/><circle cx="485.2" cy="481.8" r="1.1"/><circle cx="491.9" cy="481.9" r="1.1"/><circle cx="498.6" cy="481.9" r="1.1"/><circle cx="357.9" cy="468.8" r="1.1"/><circle cx="357.9" cy="455.5" r="1.1"/><circle cx="357.9" cy="442.2" r="1.1"/><circle cx="357.9" cy="429.0" r="1.1"/><circle cx="357.9" cy="415.8" r="1.1"/><circle cx="357.9" cy="402.5" r="1.1"/></g>
<rect x="327.5" y="376.1" width="176.7" height="107.3" fill="none" stroke="#858585" stroke-width="1"/>
<g stroke="#858585" stroke-width="0.8"><path d="M325.5,376.1 L327.5,376.1"/><path d="M325.5,402.6 L327.5,402.6"/><path d="M325.5,429.1 L327.5,429.1"/><path d="M325.5,455.6 L327.5,455.6"/><path d="M325.5,482.1 L327.5,482.1"/></g>
<g stroke="#858585" stroke-width="0.8"><path d="M330.4,483.4 L330.4,485.4"/><path d="M374.2,483.4 L374.2,485.4"/><path d="M416.8,483.4 L416.8,485.4"/><path d="M459.9,483.4 L459.9,485.4"/><path d="M503.4,483.4 L503.4,485.4"/></g>
<g font-size="5.175" font-weight="bold" fill="#111" text-anchor="end">
<text x="322.5" y="377.6">16</text>
<text x="322.5" y="404.1">12</text>
<text x="322.5" y="430.6">8</text>
<text x="322.5" y="457.1">4</text>
<text x="322.5" y="483.6">0</text>
</g>
<g font-size="5.175" font-weight="bold" fill="#111" text-anchor="middle">
<text x="330.4" y="493.5">0</text>
<text x="374.2" y="493.5">4</text>
<text x="416.8" y="493.5">8</text>
<text x="459.9" y="493.5">12</text>
<text x="503.4" y="493.5">16</text>
</g>
<text x="415.5" y="503" font-size="7.4" font-weight="bold" fill="#222" text-anchor="middle">Time (min)</text>
<text transform="translate(307.5,433) rotate(-90)" font-size="6" font-weight="bold" fill="#222" text-anchor="middle" textLength="102" lengthAdjust="spacingAndGlyphs">Concentration of Salbutamol (μM)</text>
<path d="M448,382.4 L462,382.4" stroke="#f07a7a" stroke-width="1"/>
<circle cx="456.3" cy="388.5" r="1" fill="#8a8af0"/>
<text x="464.6" y="384.5" font-size="4.8" font-weight="bold" fill="#222" textLength="28" lengthAdjust="spacingAndGlyphs">Calculated</text>
<text x="464.6" y="390.5" font-size="4.8" font-weight="bold" fill="#222" textLength="35" lengthAdjust="spacingAndGlyphs">Experimental</text>
<g font-size="13" font-weight="bold" fill="#2a2ab8">
<text x="129.7" y="257.4" textLength="104" lengthAdjust="spacingAndGlyphs">Step 1: Adsorption</text>
<text x="129.7" y="272.7" xml:space="preserve">Isotherm  plotting</text>
<text x="342.2" y="257.8" textLength="95" lengthAdjust="spacingAndGlyphs">Step 2: Scachard</text>
<text x="342.2" y="273">plotting</text>
<text x="136.2" y="391.8" textLength="135.6" lengthAdjust="spacingAndGlyphs" xml:space="preserve">Step 3: AED  calculation</text>
<text x="336.8" y="391.8" textLength="98.8" lengthAdjust="spacingAndGlyphs">Step 4: Simulated</text>
<text x="336.8" y="406.5" textLength="140.3" lengthAdjust="spacingAndGlyphs" xml:space="preserve">overloaded  band  profiles</text>
</g>
<!-- /PLOTS -->
<!-- ============ TEXT LABELS ============ -->
<g font-weight="bold" fill="#e2141c">
  <text x="258.7" y="49.8" font-size="18.3" textLength="63" lengthAdjust="spacingAndGlyphs">Pump 1</text>
  <text x="258.7" y="147.4" font-size="18.3" textLength="63" lengthAdjust="spacingAndGlyphs">Pump 2</text>
  <text x="677" y="25.2" font-size="17.6" textLength="123" lengthAdjust="spacingAndGlyphs">HPLC-MS/MS</text>
  <text x="656" y="505.3" font-size="17.3" textLength="172" lengthAdjust="spacingAndGlyphs">Raw adsorption data</text>
</g>
<g font-weight="bold" fill="#3a8698" font-size="15.2">
  <text x="345.5" y="50.6" font-style="italic" textLength="9.5" lengthAdjust="spacingAndGlyphs">β</text>
  <text x="355.3" y="54.2" font-size="10" textLength="6.5" lengthAdjust="spacingAndGlyphs">2</text>
  <text x="361.5" y="50.6" textLength="96.5" lengthAdjust="spacingAndGlyphs">-AR column</text>
</g>
</svg>
</body></html>
